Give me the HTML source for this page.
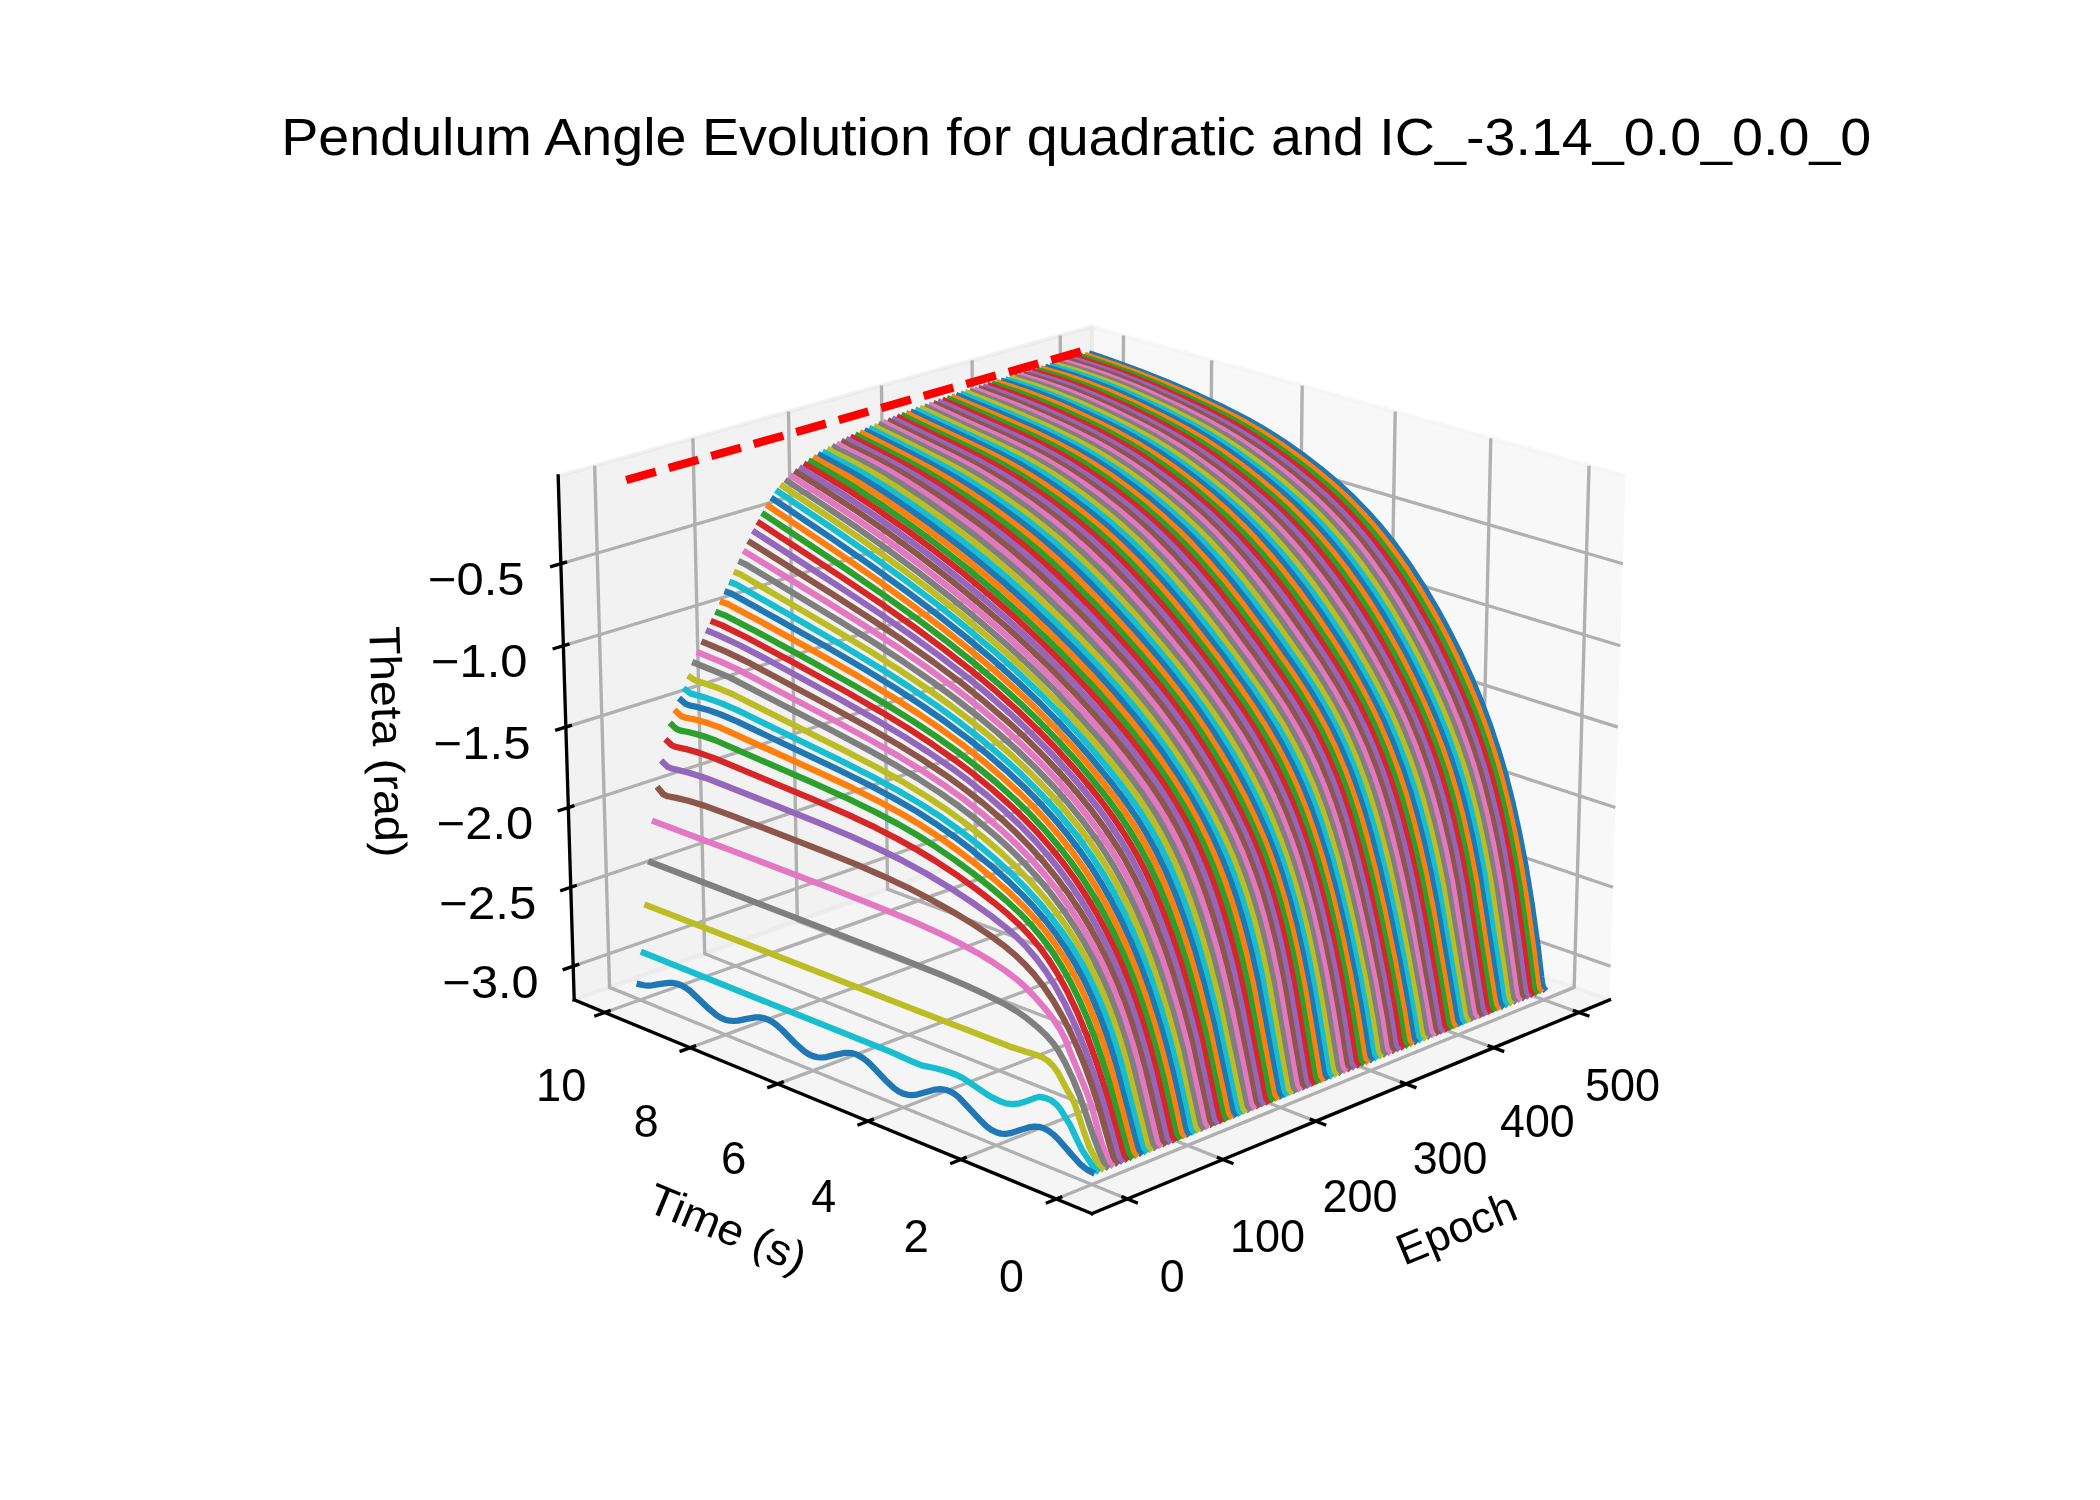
<!DOCTYPE html>
<html lang="en"><head><meta charset="utf-8"><title>Pendulum Angle Evolution</title>
<style>html,body{margin:0;padding:0;background:#fff}svg{display:block;will-change:transform}svg text{font-family:"Liberation Sans",sans-serif;fill:#000}</style></head>
<body>
<svg width="2100" height="1500" viewBox="0 0 504 360" role="img" aria-label="3D line chart of pendulum angle evolution">
 <defs>
  <style type="text/css">*{stroke-linejoin: round; stroke-linecap: butt}</style>
 </defs>
 <g id="figure_1">
  <g id="patch_1">
   <path d="M 0 360 L 504 360 L 504 0 L 0 0 z
" style="fill: #ffffff"/>
  </g>
  <g id="patch_2">
   <path d="M 119.7 320.4 L 396.9 320.4 L 396.9 43.2 L 119.7 43.2 z
" style="fill: #ffffff"/>
  </g>
  <g id="pane3d_1">
   <g id="patch_3">
    <path d="M 386.28 239.97 L 262.05 196.07 L 262.05 78.42 L 390.13 114.22" style="fill: #f2f2f2; fill-opacity: 0.5; stroke: #f2f2f2; stroke-opacity: 0.5; stroke-linejoin: miter"/>
   </g>
  </g>
  <g id="pane3d_2">
   <g id="patch_4">
    <path d="M 137.81 239.97 L 262.05 196.07 L 262.05 78.42 L 133.96 114.22" style="fill: #e6e6e6; fill-opacity: 0.5; stroke: #e6e6e6; stroke-opacity: 0.5; stroke-linejoin: miter"/>
   </g>
  </g>
  <g id="pane3d_3">
   <g id="patch_5">
    <path d="M 262.05 291.28 L 386.28 239.97 L 262.05 196.07 L 137.81 239.97" style="fill: #ececec; fill-opacity: 0.5; stroke: #ececec; stroke-opacity: 0.5; stroke-linejoin: miter"/>
   </g>
  </g>
  <g id="grid3d_1">
   <g id="Line3DCollection_1">
    <path d="M 270.57 287.76 L 146.29 236.97 L 142.72 111.77" style="fill: none; stroke: #b0b0b0; stroke-width: 0.8"/>
    <path d="M 293.50 278.29 L 169.13 228.90 L 166.30 105.18" style="fill: none; stroke: #b0b0b0; stroke-width: 0.8"/>
    <path d="M 315.78 269.09 L 191.36 221.05 L 189.24 98.77" style="fill: none; stroke: #b0b0b0; stroke-width: 0.8"/>
    <path d="M 337.43 260.14 L 213.01 213.40 L 211.56 92.53" style="fill: none; stroke: #b0b0b0; stroke-width: 0.8"/>
    <path d="M 358.48 251.45 L 234.11 205.94 L 233.30 86.45" style="fill: none; stroke: #b0b0b0; stroke-width: 0.8"/>
    <path d="M 378.96 242.99 L 254.68 198.68 L 254.47 80.54" style="fill: none; stroke: #b0b0b0; stroke-width: 0.8"/>
   </g>
  </g>
  <g id="grid3d_2">
   <g id="Line3DCollection_2">
    <path d="M 381.37 111.77 L 377.80 236.97 L 253.52 287.76" style="fill: none; stroke: #b0b0b0; stroke-width: 0.8"/>
    <path d="M 357.79 105.18 L 354.97 228.90 L 230.59 278.29" style="fill: none; stroke: #b0b0b0; stroke-width: 0.8"/>
    <path d="M 334.85 98.77 L 332.73 221.05 L 208.31 269.09" style="fill: none; stroke: #b0b0b0; stroke-width: 0.8"/>
    <path d="M 312.53 92.53 L 311.08 213.40 L 186.66 260.14" style="fill: none; stroke: #b0b0b0; stroke-width: 0.8"/>
    <path d="M 290.79 86.45 L 289.98 205.94 L 165.61 251.45" style="fill: none; stroke: #b0b0b0; stroke-width: 0.8"/>
    <path d="M 269.63 80.54 L 269.41 198.68 L 145.14 242.99" style="fill: none; stroke: #b0b0b0; stroke-width: 0.8"/>
   </g>
  </g>
  <g id="grid3d_3">
   <g id="Line3DCollection_3">
    <path d="M 137.56 231.90 L 262.05 188.51 L 386.53 231.90" style="fill: none; stroke: #b0b0b0; stroke-width: 0.8"/>
    <path d="M 136.98 212.94 L 262.05 170.74 L 387.11 212.94" style="fill: none; stroke: #b0b0b0; stroke-width: 0.8"/>
    <path d="M 136.40 193.80 L 262.05 152.82 L 387.70 193.80" style="fill: none; stroke: #b0b0b0; stroke-width: 0.8"/>
    <path d="M 135.80 174.49 L 262.05 134.74 L 388.29 174.49" style="fill: none; stroke: #b0b0b0; stroke-width: 0.8"/>
    <path d="M 135.21 154.98 L 262.05 116.50 L 388.89 154.98" style="fill: none; stroke: #b0b0b0; stroke-width: 0.8"/>
    <path d="M 134.60 135.30 L 262.05 98.10 L 389.49 135.30" style="fill: none; stroke: #b0b0b0; stroke-width: 0.8"/>
   </g>
  </g>
  <g id="axis3d_1">
   <g id="line2d_1">
    <path d="M 386.28 239.97 L 262.05 291.28" style="fill: none; stroke: #000000; stroke-width: 0.8; stroke-linecap: square"/>
   </g>
   <g id="xtick_1">
    <g id="line2d_2">
     <path d="M 269.50 287.32 L 272.73 288.64" style="fill: none; stroke: #000000; stroke-width: 0.8; stroke-linecap: square"/>
    </g>
    <g id="text_1">
     <text x="281.33" y="310.16" text-anchor="middle" font-size="10.90" textLength="5.97" lengthAdjust="spacingAndGlyphs">0</text>
    </g>
   </g>
   <g id="xtick_2">
    <g id="line2d_3">
     <path d="M 292.43 277.86 L 295.66 279.14" style="fill: none; stroke: #000000; stroke-width: 0.8; stroke-linecap: square"/>
    </g>
    <g id="text_2">
     <text x="304.19" y="300.43" text-anchor="middle" font-size="10.90" textLength="18.03" lengthAdjust="spacingAndGlyphs">100</text>
    </g>
   </g>
   <g id="xtick_3">
    <g id="line2d_4">
     <path d="M 314.70 268.67 L 317.94 269.92" style="fill: none; stroke: #000000; stroke-width: 0.8; stroke-linecap: square"/>
    </g>
    <g id="text_3">
     <text x="326.41" y="290.99" text-anchor="middle" font-size="10.90" textLength="18.03" lengthAdjust="spacingAndGlyphs">200</text>
    </g>
   </g>
   <g id="xtick_4">
    <g id="line2d_5">
     <path d="M 336.36 259.74 L 339.58 260.95" style="fill: none; stroke: #000000; stroke-width: 0.8; stroke-linecap: square"/>
    </g>
    <g id="text_4">
     <text x="347.99" y="281.81" text-anchor="middle" font-size="10.90" textLength="17.91" lengthAdjust="spacingAndGlyphs">300</text>
    </g>
   </g>
   <g id="xtick_5">
    <g id="line2d_6">
     <path d="M 357.41 251.06 L 360.63 252.24" style="fill: none; stroke: #000000; stroke-width: 0.8; stroke-linecap: square"/>
    </g>
    <g id="text_5">
     <text x="368.98" y="272.88" text-anchor="middle" font-size="10.90" textLength="17.91" lengthAdjust="spacingAndGlyphs">400</text>
    </g>
   </g>
   <g id="xtick_6">
    <g id="line2d_7">
     <path d="M 377.88 242.61 L 381.10 243.76" style="fill: none; stroke: #000000; stroke-width: 0.8; stroke-linecap: square"/>
    </g>
    <g id="text_6">
     <text x="389.39" y="264.21" text-anchor="middle" font-size="10.90" textLength="18.03" lengthAdjust="spacingAndGlyphs">500</text>
    </g>
   </g>
   <g id="text_7">
    <text x="350.88" y="298.11" transform="rotate(-22.44 350.88 298.11)" text-anchor="middle" font-size="10.50" textLength="30.07" lengthAdjust="spacingAndGlyphs">Epoch</text>
   </g>
  </g>
  <g id="axis3d_2">
   <g id="line2d_8">
    <path d="M 137.81 239.97 L 262.05 291.28" style="fill: none; stroke: #000000; stroke-width: 0.8; stroke-linecap: square"/>
   </g>
   <g id="xtick_7">
    <g id="line2d_9">
     <path d="M 254.59 287.32 L 251.36 288.64" style="fill: none; stroke: #000000; stroke-width: 0.8; stroke-linecap: square"/>
    </g>
    <g id="text_8">
     <text x="242.76" y="310.16" text-anchor="middle" font-size="10.90" textLength="5.97" lengthAdjust="spacingAndGlyphs">0</text>
    </g>
   </g>
   <g id="xtick_8">
    <g id="line2d_10">
     <path d="M 231.66 277.86 L 228.43 279.14" style="fill: none; stroke: #000000; stroke-width: 0.8; stroke-linecap: square"/>
    </g>
    <g id="text_9">
     <text x="219.90" y="300.43" text-anchor="middle" font-size="10.90" textLength="6.09" lengthAdjust="spacingAndGlyphs">2</text>
    </g>
   </g>
   <g id="xtick_9">
    <g id="line2d_11">
     <path d="M 209.39 268.67 L 206.16 269.92" style="fill: none; stroke: #000000; stroke-width: 0.8; stroke-linecap: square"/>
    </g>
    <g id="text_10">
     <text x="197.68" y="290.99" text-anchor="middle" font-size="10.90" textLength="5.97" lengthAdjust="spacingAndGlyphs">4</text>
    </g>
   </g>
   <g id="xtick_10">
    <g id="line2d_12">
     <path d="M 187.74 259.74 L 184.51 260.95" style="fill: none; stroke: #000000; stroke-width: 0.8; stroke-linecap: square"/>
    </g>
    <g id="text_11">
     <text x="176.10" y="281.81" text-anchor="middle" font-size="10.90" textLength="6.09" lengthAdjust="spacingAndGlyphs">6</text>
    </g>
   </g>
   <g id="xtick_11">
    <g id="line2d_13">
     <path d="M 166.68 251.06 L 163.46 252.24" style="fill: none; stroke: #000000; stroke-width: 0.8; stroke-linecap: square"/>
    </g>
    <g id="text_12">
     <text x="155.11" y="272.88" text-anchor="middle" font-size="10.90" textLength="5.97" lengthAdjust="spacingAndGlyphs">8</text>
    </g>
   </g>
   <g id="xtick_12">
    <g id="line2d_14">
     <path d="M 146.21 242.61 L 142.99 243.76" style="fill: none; stroke: #000000; stroke-width: 0.8; stroke-linecap: square"/>
    </g>
    <g id="text_13">
     <text x="134.70" y="264.21" text-anchor="middle" font-size="10.90" textLength="12.06" lengthAdjust="spacingAndGlyphs">10</text>
    </g>
   </g>
   <g id="text_14">
    <text x="173.22" y="298.11" transform="rotate(-337.56 173.22 298.11)" text-anchor="middle" font-size="10.50" textLength="40.09" lengthAdjust="spacingAndGlyphs">Time (s)</text>
   </g>
  </g>
  <g id="axis3d_3">
   <g id="line2d_15">
    <path d="M 137.81 239.97 L 133.96 114.22" style="fill: none; stroke: #000000; stroke-width: 0.8; stroke-linecap: square"/>
   </g>
   <g id="xtick_13">
    <g id="line2d_16">
     <path d="M 138.64 231.53 L 135.41 232.65" style="fill: none; stroke: #000000; stroke-width: 0.8; stroke-linecap: square"/>
    </g>
    <g id="text_15">
     <text x="117.73" y="239.50" text-anchor="middle" font-size="10.90" textLength="23.04" lengthAdjust="spacingAndGlyphs">−3.0</text>
    </g>
   </g>
   <g id="xtick_14">
    <g id="line2d_17">
     <path d="M 138.06 212.58 L 134.82 213.67" style="fill: none; stroke: #000000; stroke-width: 0.8; stroke-linecap: square"/>
    </g>
    <g id="text_16">
     <text x="117.06" y="220.54" text-anchor="middle" font-size="10.90" textLength="23.28" lengthAdjust="spacingAndGlyphs">−2.5</text>
    </g>
   </g>
   <g id="xtick_15">
    <g id="line2d_18">
     <path d="M 137.48 193.45 L 134.22 194.51" style="fill: none; stroke: #000000; stroke-width: 0.8; stroke-linecap: square"/>
    </g>
    <g id="text_17">
     <text x="116.38" y="201.40" text-anchor="middle" font-size="10.90" textLength="23.16" lengthAdjust="spacingAndGlyphs">−2.0</text>
    </g>
   </g>
   <g id="xtick_16">
    <g id="line2d_19">
     <path d="M 136.89 174.14 L 133.62 175.17" style="fill: none; stroke: #000000; stroke-width: 0.8; stroke-linecap: square"/>
    </g>
    <g id="text_18">
     <text x="115.69" y="182.08" text-anchor="middle" font-size="10.90" textLength="23.28" lengthAdjust="spacingAndGlyphs">−1.5</text>
    </g>
   </g>
   <g id="xtick_17">
    <g id="line2d_20">
     <path d="M 136.30 154.65 L 133.01 155.65" style="fill: none; stroke: #000000; stroke-width: 0.8; stroke-linecap: square"/>
    </g>
    <g id="text_19">
     <text x="115.00" y="162.58" text-anchor="middle" font-size="10.90" textLength="23.16" lengthAdjust="spacingAndGlyphs">−1.0</text>
    </g>
   </g>
   <g id="xtick_18">
    <g id="line2d_21">
     <path d="M 135.70 134.97 L 132.40 135.94" style="fill: none; stroke: #000000; stroke-width: 0.8; stroke-linecap: square"/>
    </g>
    <g id="text_20">
     <text x="114.30" y="142.89" text-anchor="middle" font-size="10.90" textLength="23.16" lengthAdjust="spacingAndGlyphs">−0.5</text>
    </g>
   </g>
   <g id="text_21">
    <text x="89.47" y="178.14" transform="rotate(-271.75 89.47 178.14)" text-anchor="middle" font-size="10.50" textLength="55.44" lengthAdjust="spacingAndGlyphs">Theta (rad)</text>
   </g>
  </g>
  <g id="axes_1">
   <g id="line2d_22">
    <path d="M 370.54 237.24 L 370.41 237.09 L 370.15 236.20 L 369.91 234.51 L 369.05 227.19 L 367.57 216.64 L 366.06 207.45 L 364.50 199.40 L 362.93 192.31 L 361.33 186.03 L 359.71 180.45 L 357.53 173.88 L 355.34 168.03 L 353.13 162.72 L 350.36 156.69 L 347.58 151.18 L 344.80 146.10 L 341.46 140.50 L 338.12 135.39 L 334.77 130.75 L 331.43 126.56 L 328.08 122.78 L 324.74 119.37 L 321.41 116.27 L 316.98 112.54 L 312.56 109.15 L 308.15 106.06 L 303.77 103.27 L 299.40 100.76 L 293.97 97.96 L 287.49 94.91 L 279.99 91.67 L 273.61 89.13 L 266.23 86.45 L 262.05 85.04 L 262.05 85.04" clip-path="url(#pd6e7ab36a4)" style="fill: none; stroke: #1f77b4; stroke-width: 1.5; stroke-linecap: square"/>
   </g>
   <g id="line2d_23">
    <path d="M 369.53 237.65 L 369.39 237.51 L 369.14 236.64 L 368.90 235.01 L 368.03 227.90 L 366.55 217.34 L 365.03 208.04 L 363.48 199.90 L 361.90 192.76 L 360.30 186.48 L 358.68 180.91 L 356.50 174.36 L 354.30 168.55 L 352.10 163.27 L 349.33 157.24 L 346.55 151.72 L 343.77 146.64 L 340.42 141.02 L 337.08 135.90 L 333.73 131.26 L 330.39 127.06 L 327.04 123.27 L 323.70 119.84 L 320.37 116.74 L 315.93 112.99 L 311.51 109.57 L 307.11 106.45 L 302.72 103.64 L 298.36 101.11 L 292.92 98.28 L 286.44 95.20 L 280.01 92.37 L 273.63 89.78 L 267.29 87.46 L 261.00 85.36 L 261.00 85.36" clip-path="url(#pd6e7ab36a4)" style="fill: none; stroke: #ff7f0e; stroke-width: 1.5; stroke-linecap: square"/>
   </g>
   <g id="line2d_24">
    <path d="M 368.52 238.07 L 368.38 237.92 L 368.12 237.09 L 367.88 235.51 L 367.01 228.60 L 365.02 214.76 L 363.49 205.76 L 361.93 197.92 L 360.34 191.05 L 358.73 185.01 L 357.11 179.66 L 354.92 173.35 L 352.72 167.71 L 349.95 161.33 L 347.18 155.53 L 344.40 150.18 L 341.06 144.30 L 337.71 138.92 L 334.92 134.82 L 331.57 130.32 L 328.23 126.25 L 324.89 122.58 L 321.55 119.25 L 318.21 116.23 L 313.78 112.55 L 309.37 109.19 L 304.97 106.11 L 300.59 103.34 L 296.22 100.86 L 290.79 98.06 L 284.32 95.00 L 277.90 92.18 L 271.52 89.64 L 265.19 87.38 L 259.96 85.68 L 259.96 85.68" clip-path="url(#pd6e7ab36a4)" style="fill: none; stroke: #2ca02c; stroke-width: 1.5; stroke-linecap: square"/>
   </g>
   <g id="line2d_25">
    <path d="M 367.50 238.48 L 367.37 238.34 L 367.11 237.53 L 366.87 236.01 L 365.49 225.68 L 364.00 215.41 L 362.47 206.33 L 360.90 198.43 L 359.32 191.53 L 357.71 185.49 L 356.08 180.14 L 353.89 173.85 L 351.69 168.23 L 348.92 161.88 L 346.14 156.08 L 343.36 150.73 L 340.02 144.84 L 336.67 139.45 L 333.88 135.34 L 330.53 130.84 L 327.18 126.76 L 323.84 123.08 L 320.50 119.73 L 317.17 116.69 L 312.74 113.00 L 308.32 109.61 L 303.92 106.51 L 299.54 103.71 L 295.18 101.20 L 289.75 98.38 L 283.28 95.29 L 276.85 92.46 L 271.53 90.31 L 266.25 88.39 L 259.95 86.32 L 258.91 86.00 L 258.91 86.00" clip-path="url(#pd6e7ab36a4)" style="fill: none; stroke: #d62728; stroke-width: 1.5; stroke-linecap: square"/>
   </g>
   <g id="line2d_26">
    <path d="M 366.49 238.89 L 366.35 238.76 L 366.09 237.97 L 365.85 236.49 L 364.47 226.37 L 362.46 212.87 L 360.92 204.13 L 359.35 196.54 L 357.75 189.92 L 356.13 184.12 L 354.50 178.99 L 352.30 172.90 L 350.10 167.44 L 347.33 161.22 L 344.55 155.52 L 341.76 150.26 L 338.42 144.45 L 335.07 139.14 L 331.72 134.32 L 328.37 129.96 L 325.03 126.01 L 321.68 122.43 L 318.35 119.17 L 315.01 116.20 L 310.59 112.57 L 306.17 109.23 L 301.78 106.18 L 297.40 103.43 L 293.04 100.96 L 287.62 98.16 L 281.15 95.10 L 274.74 92.29 L 269.43 90.19 L 264.15 88.31 L 257.86 86.32 L 257.86 86.32" clip-path="url(#pd6e7ab36a4)" style="fill: none; stroke: #9467bd; stroke-width: 1.5; stroke-linecap: square"/>
   </g>
   <g id="line2d_27">
    <path d="M 365.47 239.31 L 365.33 239.17 L 365.07 238.41 L 364.83 236.98 L 362.94 223.51 L 361.43 213.49 L 359.89 204.70 L 358.32 197.07 L 356.72 190.43 L 355.10 184.63 L 353.47 179.49 L 351.27 173.42 L 349.06 167.97 L 346.29 161.76 L 343.51 156.07 L 340.72 150.81 L 337.37 145.00 L 334.02 139.69 L 330.67 134.87 L 327.33 130.49 L 323.98 126.53 L 320.64 122.93 L 317.30 119.66 L 313.97 116.67 L 309.54 113.02 L 305.13 109.66 L 300.73 106.58 L 296.35 103.80 L 291.99 101.31 L 286.57 98.49 L 280.10 95.40 L 273.69 92.58 L 268.38 90.47 L 263.10 88.61 L 256.81 86.64 L 256.81 86.64" clip-path="url(#pd6e7ab36a4)" style="fill: none; stroke: #8c564b; stroke-width: 1.5; stroke-linecap: square"/>
   </g>
   <g id="line2d_28">
    <path d="M 364.45 239.72 L 364.31 239.59 L 364.05 238.84 L 363.81 237.45 L 361.41 220.71 L 359.89 211.03 L 358.34 202.60 L 356.75 195.29 L 355.15 188.93 L 353.52 183.36 L 351.88 178.42 L 349.68 172.53 L 347.47 167.22 L 344.69 161.13 L 341.91 155.54 L 338.56 149.37 L 335.21 143.74 L 331.86 138.59 L 328.51 133.91 L 325.16 129.66 L 321.82 125.81 L 318.47 122.32 L 315.14 119.13 L 310.70 115.27 L 306.28 111.75 L 301.88 108.50 L 297.49 105.54 L 293.12 102.89 L 288.77 100.49 L 283.36 97.76 L 276.91 94.73 L 271.57 92.43 L 266.27 90.37 L 260.99 88.56 L 255.76 86.96 L 255.76 86.96" clip-path="url(#pd6e7ab36a4)" style="fill: none; stroke: #e377c2; stroke-width: 1.5; stroke-linecap: square"/>
   </g>
   <g id="line2d_29">
    <path d="M 363.43 240.14 L 363.29 240.01 L 363.03 239.28 L 362.78 237.92 L 359.37 214.74 L 357.83 205.86 L 356.25 198.17 L 354.65 191.49 L 353.03 185.67 L 351.39 180.53 L 349.19 174.47 L 346.98 169.04 L 344.20 162.85 L 341.42 157.17 L 338.63 151.93 L 335.28 146.12 L 331.93 140.82 L 328.58 135.98 L 325.23 131.58 L 321.88 127.59 L 318.54 123.97 L 315.20 120.66 L 311.87 117.63 L 307.44 113.93 L 303.02 110.52 L 298.63 107.39 L 294.25 104.56 L 289.89 102.02 L 284.47 99.16 L 278.00 96.03 L 271.58 93.17 L 266.27 91.06 L 260.99 89.21 L 254.70 87.29 L 254.70 87.29" clip-path="url(#pd6e7ab36a4)" style="fill: none; stroke: #7f7f7f; stroke-width: 1.5; stroke-linecap: square"/>
   </g>
   <g id="line2d_30">
    <path d="M 362.41 240.55 L 362.27 240.43 L 362.01 239.71 L 361.76 238.39 L 357.83 212.26 L 356.27 203.76 L 354.68 196.40 L 353.08 190.01 L 351.45 184.42 L 349.80 179.47 L 347.60 173.59 L 345.38 168.29 L 342.60 162.22 L 339.82 156.65 L 336.47 150.50 L 333.12 144.87 L 329.77 139.73 L 326.41 135.03 L 323.06 130.77 L 319.72 126.89 L 316.37 123.35 L 313.04 120.12 L 308.60 116.21 L 304.18 112.64 L 299.77 109.34 L 295.38 106.34 L 291.01 103.63 L 286.66 101.20 L 281.25 98.42 L 274.80 95.37 L 269.46 93.04 L 264.16 90.98 L 258.89 89.18 L 253.65 87.61 L 253.65 87.61" clip-path="url(#pd6e7ab36a4)" style="fill: none; stroke: #bcbd22; stroke-width: 1.5; stroke-linecap: square"/>
   </g>
   <g id="line2d_31">
    <path d="M 361.39 240.97 L 361.25 240.84 L 360.99 240.14 L 360.74 238.85 L 356.28 209.90 L 354.71 201.78 L 353.11 194.74 L 351.50 188.62 L 349.86 183.25 L 347.66 176.97 L 345.45 171.41 L 342.67 165.12 L 339.89 159.37 L 337.10 154.07 L 333.75 148.20 L 330.39 142.82 L 327.60 138.69 L 324.24 134.14 L 320.89 129.99 L 317.55 126.21 L 314.21 122.76 L 310.87 119.60 L 306.44 115.76 L 302.02 112.24 L 297.62 108.99 L 293.24 106.03 L 288.87 103.38 L 284.52 100.98 L 279.12 98.24 L 272.68 95.21 L 267.34 92.92 L 262.05 90.91 L 256.78 89.16 L 252.59 87.93 L 252.59 87.93" clip-path="url(#pd6e7ab36a4)" style="fill: none; stroke: #17becf; stroke-width: 1.5; stroke-linecap: square"/>
   </g>
   <g id="line2d_32">
    <path d="M 360.36 241.38 L 360.22 241.26 L 359.96 240.57 L 359.71 239.30 L 354.72 207.67 L 353.14 199.91 L 351.54 193.18 L 349.91 187.31 L 348.27 182.14 L 346.07 176.06 L 343.85 170.63 L 341.07 164.47 L 338.28 158.83 L 335.49 153.62 L 332.14 147.85 L 328.78 142.56 L 325.43 137.72 L 322.07 133.29 L 318.73 129.25 L 315.38 125.56 L 312.04 122.19 L 308.71 119.10 L 304.28 115.32 L 299.86 111.85 L 295.47 108.64 L 291.09 105.74 L 286.73 103.13 L 281.30 100.21 L 274.84 97.03 L 268.42 94.13 L 263.10 92.00 L 257.83 90.15 L 252.58 88.55 L 251.54 88.25 L 251.54 88.25" clip-path="url(#pd6e7ab36a4)" style="fill: none; stroke: #1f77b4; stroke-width: 1.5; stroke-linecap: square"/>
   </g>
   <g id="line2d_33">
    <path d="M 359.34 241.80 L 359.06 241.41 L 358.81 240.45 L 357.77 234.03 L 354.20 211.14 L 352.63 202.99 L 351.03 195.92 L 349.41 189.76 L 347.78 184.35 L 346.13 179.55 L 343.92 173.82 L 341.69 168.63 L 338.91 162.70 L 336.12 157.26 L 332.76 151.26 L 329.41 145.75 L 326.61 141.50 L 323.26 136.79 L 319.90 132.48 L 316.55 128.55 L 313.21 124.95 L 309.87 121.65 L 306.54 118.62 L 302.12 114.90 L 297.71 111.47 L 293.31 108.31 L 288.94 105.46 L 284.58 102.90 L 279.16 100.02 L 272.70 96.87 L 266.29 94.01 L 260.99 91.93 L 255.72 90.13 L 250.48 88.58 L 250.48 88.58" clip-path="url(#pd6e7ab36a4)" style="fill: none; stroke: #ff7f0e; stroke-width: 1.5; stroke-linecap: square"/>
   </g>
   <g id="line2d_34">
    <path d="M 358.31 242.22 L 358.04 241.84 L 357.78 240.88 L 356.74 234.55 L 353.16 211.76 L 351.59 203.61 L 349.99 196.52 L 348.37 190.34 L 346.73 184.92 L 345.08 180.10 L 342.87 174.35 L 340.65 169.17 L 337.86 163.25 L 335.07 157.82 L 331.71 151.84 L 328.35 146.35 L 325.56 142.11 L 322.20 137.39 L 318.85 133.07 L 315.50 129.12 L 312.15 125.49 L 308.82 122.17 L 305.49 119.12 L 301.06 115.37 L 296.65 111.92 L 292.25 108.74 L 287.88 105.86 L 283.52 103.28 L 278.10 100.39 L 271.64 97.22 L 266.30 94.81 L 260.99 92.66 L 255.71 90.80 L 250.46 89.20 L 249.42 88.91 L 249.42 88.91" clip-path="url(#pd6e7ab36a4)" style="fill: none; stroke: #2ca02c; stroke-width: 1.5; stroke-linecap: square"/>
   </g>
   <g id="line2d_35">
    <path d="M 357.28 242.64 L 357.01 242.26 L 356.75 241.31 L 355.70 235.05 L 352.12 212.39 L 350.55 204.24 L 348.95 197.14 L 347.32 190.94 L 345.69 185.49 L 344.04 180.65 L 341.82 174.89 L 339.60 169.70 L 336.81 163.79 L 334.01 158.39 L 330.66 152.43 L 327.30 146.96 L 324.50 142.72 L 321.14 138.00 L 317.79 133.67 L 314.44 129.69 L 311.10 126.05 L 307.76 122.70 L 304.43 119.62 L 300.00 115.85 L 295.59 112.37 L 291.19 109.17 L 286.82 106.27 L 282.46 103.67 L 277.04 100.76 L 270.58 97.58 L 265.24 95.16 L 259.92 93.00 L 254.65 91.14 L 249.40 89.53 L 248.36 89.23 L 248.36 89.23" clip-path="url(#pd6e7ab36a4)" style="fill: none; stroke: #d62728; stroke-width: 1.5; stroke-linecap: square"/>
   </g>
   <g id="line2d_36">
    <path d="M 356.25 243.06 L 355.98 242.68 L 355.72 241.74 L 354.67 235.53 L 351.08 213.02 L 349.50 204.88 L 347.90 197.76 L 346.28 191.54 L 344.64 186.07 L 342.99 181.21 L 340.77 175.43 L 338.55 170.24 L 335.76 164.34 L 332.96 158.95 L 329.60 153.02 L 326.24 147.57 L 323.44 143.34 L 320.08 138.62 L 316.73 134.28 L 313.38 130.28 L 310.04 126.61 L 306.70 123.23 L 303.37 120.13 L 298.94 116.33 L 294.53 112.83 L 290.13 109.61 L 285.76 106.69 L 281.40 104.07 L 275.98 101.14 L 269.52 97.95 L 263.11 95.06 L 257.80 92.95 L 252.53 91.13 L 247.30 89.56 L 247.30 89.56" clip-path="url(#pd6e7ab36a4)" style="fill: none; stroke: #9467bd; stroke-width: 1.5; stroke-linecap: square"/>
   </g>
   <g id="line2d_37">
    <path d="M 355.22 243.48 L 354.95 243.10 L 354.69 242.17 L 353.63 236.00 L 349.51 210.82 L 347.92 203.04 L 346.31 196.22 L 344.68 190.24 L 343.04 184.97 L 340.83 178.78 L 338.61 173.31 L 336.38 168.34 L 333.59 162.68 L 330.79 157.49 L 327.42 151.76 L 324.06 146.47 L 321.26 142.36 L 317.91 137.76 L 314.55 133.51 L 311.20 129.60 L 307.86 126.01 L 304.52 122.70 L 301.20 119.66 L 296.77 115.92 L 292.36 112.46 L 287.97 109.29 L 283.60 106.42 L 279.25 103.85 L 273.84 100.96 L 267.39 97.81 L 262.05 95.42 L 256.74 93.30 L 251.47 91.47 L 246.23 89.89 L 246.23 89.89" clip-path="url(#pd6e7ab36a4)" style="fill: none; stroke: #8c564b; stroke-width: 1.5; stroke-linecap: square"/>
   </g>
   <g id="line2d_38">
    <path d="M 354.19 243.90 L 353.91 243.52 L 353.65 242.59 L 352.60 236.46 L 348.47 211.46 L 346.88 203.69 L 345.26 196.86 L 343.63 190.85 L 341.99 185.55 L 339.78 179.34 L 337.56 173.84 L 335.33 168.88 L 332.53 163.23 L 329.73 158.07 L 326.37 152.37 L 323.00 147.11 L 320.20 142.99 L 316.84 138.39 L 313.49 134.12 L 310.14 130.19 L 306.80 126.57 L 303.46 123.24 L 300.13 120.17 L 295.71 116.40 L 291.30 112.92 L 286.91 109.73 L 282.54 106.84 L 278.19 104.25 L 272.77 101.35 L 266.32 98.19 L 260.98 95.79 L 255.67 93.66 L 250.40 91.81 L 245.17 90.22 L 245.17 90.22" clip-path="url(#pd6e7ab36a4)" style="fill: none; stroke: #e377c2; stroke-width: 1.5; stroke-linecap: square"/>
   </g>
   <g id="line2d_39">
    <path d="M 353.15 244.32 L 352.88 243.94 L 352.62 243.02 L 351.56 236.90 L 347.42 212.11 L 345.83 204.34 L 344.21 197.50 L 342.58 191.47 L 340.94 186.13 L 338.73 179.89 L 336.50 174.38 L 334.27 169.41 L 331.47 163.79 L 328.67 158.65 L 325.31 152.99 L 321.94 147.74 L 318.02 142.06 L 314.66 137.56 L 311.31 133.39 L 307.96 129.54 L 304.62 125.99 L 301.29 122.72 L 296.85 118.74 L 292.44 115.11 L 288.04 111.75 L 283.66 108.68 L 279.29 105.93 L 274.95 103.46 L 269.55 100.65 L 263.11 97.58 L 257.79 95.27 L 252.49 93.25 L 247.24 91.49 L 244.10 90.55 L 244.10 90.55" clip-path="url(#pd6e7ab36a4)" style="fill: none; stroke: #7f7f7f; stroke-width: 1.5; stroke-linecap: square"/>
   </g>
   <g id="line2d_40">
    <path d="M 352.12 244.74 L 351.84 244.36 L 351.58 243.44 L 350.53 237.33 L 346.37 212.75 L 344.78 205.00 L 343.16 198.14 L 341.53 192.09 L 339.88 186.73 L 338.23 181.94 L 336.01 176.24 L 333.77 171.15 L 330.98 165.42 L 328.17 160.22 L 324.81 154.51 L 321.44 149.23 L 318.08 144.29 L 314.72 139.67 L 311.36 135.37 L 308.01 131.39 L 304.67 127.71 L 301.33 124.32 L 298.00 121.20 L 293.58 117.38 L 289.17 113.87 L 284.78 110.63 L 280.40 107.70 L 276.05 105.07 L 270.64 102.14 L 264.19 98.96 L 258.85 96.55 L 253.54 94.39 L 248.27 92.52 L 243.03 90.88 L 243.03 90.88" clip-path="url(#pd6e7ab36a4)" style="fill: none; stroke: #bcbd22; stroke-width: 1.5; stroke-linecap: square"/>
   </g>
   <g id="line2d_41">
    <path d="M 351.08 245.16 L 350.81 244.78 L 350.55 243.85 L 349.49 237.75 L 345.32 213.39 L 343.72 205.66 L 342.11 198.79 L 340.48 192.71 L 338.83 187.32 L 337.17 182.51 L 334.95 176.78 L 332.72 171.68 L 330.48 167.06 L 327.67 161.79 L 324.87 156.96 L 321.50 151.59 L 318.13 146.55 L 314.77 141.82 L 311.41 137.40 L 308.06 133.30 L 304.72 129.49 L 301.38 125.98 L 298.04 122.75 L 293.61 118.81 L 289.20 115.20 L 284.80 111.87 L 280.43 108.84 L 276.07 106.12 L 271.73 103.68 L 266.34 100.91 L 259.91 97.88 L 254.59 95.60 L 249.30 93.60 L 244.05 91.86 L 241.96 91.21 L 241.96 91.21" clip-path="url(#pd6e7ab36a4)" style="fill: none; stroke: #17becf; stroke-width: 1.5; stroke-linecap: square"/>
   </g>
   <g id="line2d_42">
    <path d="M 350.04 245.58 L 349.77 245.20 L 349.51 244.27 L 348.45 238.16 L 344.80 216.79 L 343.21 208.79 L 341.60 201.64 L 339.97 195.29 L 338.32 189.65 L 336.67 184.63 L 334.45 178.70 L 332.22 173.44 L 329.98 168.72 L 327.17 163.37 L 324.37 158.50 L 321.00 153.09 L 317.07 147.21 L 312.59 140.97 L 309.23 136.64 L 305.88 132.61 L 302.53 128.88 L 299.20 125.43 L 295.87 122.26 L 291.44 118.39 L 287.03 114.83 L 282.64 111.55 L 278.27 108.58 L 273.91 105.91 L 269.58 103.52 L 264.19 100.79 L 257.77 97.80 L 252.46 95.57 L 247.18 93.60 L 240.89 91.54 L 240.89 91.54" clip-path="url(#pd6e7ab36a4)" style="fill: none; stroke: #1f77b4; stroke-width: 1.5; stroke-linecap: square"/>
   </g>
   <g id="line2d_43">
    <path d="M 349.00 246.01 L 348.73 245.63 L 348.47 244.69 L 347.41 238.55 L 343.75 217.41 L 342.15 209.45 L 340.54 202.30 L 338.91 195.93 L 337.27 190.26 L 335.61 185.21 L 333.39 179.25 L 331.16 173.98 L 328.92 169.26 L 326.11 163.95 L 323.30 159.10 L 319.93 153.73 L 316.00 147.87 L 311.52 141.63 L 308.16 137.29 L 304.81 133.23 L 301.46 129.48 L 298.13 126.00 L 294.80 122.80 L 290.37 118.90 L 285.96 115.33 L 281.57 112.03 L 277.19 109.04 L 272.84 106.36 L 268.51 103.95 L 263.12 101.22 L 256.70 98.22 L 251.39 95.98 L 246.11 93.99 L 239.82 91.89 L 239.82 91.89" clip-path="url(#pd6e7ab36a4)" style="fill: none; stroke: #ff7f0e; stroke-width: 1.5; stroke-linecap: square"/>
   </g>
   <g id="line2d_44">
    <path d="M 347.96 246.43 L 347.69 246.05 L 347.43 245.10 L 345.84 235.90 L 343.22 220.83 L 341.10 210.10 L 339.48 202.96 L 337.85 196.57 L 336.21 190.87 L 334.55 185.79 L 332.33 179.80 L 330.10 174.52 L 327.85 169.81 L 325.05 164.52 L 322.24 159.71 L 318.86 154.37 L 314.93 148.54 L 310.45 142.30 L 305.97 136.55 L 302.62 132.57 L 299.28 128.88 L 295.94 125.48 L 292.62 122.34 L 288.19 118.50 L 283.79 114.97 L 279.40 111.73 L 275.03 108.80 L 270.68 106.18 L 266.35 103.82 L 260.97 101.13 L 254.56 98.18 L 249.25 95.97 L 243.98 94.01 L 238.74 92.24 L 238.74 92.24" clip-path="url(#pd6e7ab36a4)" style="fill: none; stroke: #2ca02c; stroke-width: 1.5; stroke-linecap: square"/>
   </g>
   <g id="line2d_45">
    <path d="M 346.92 246.85 L 346.64 246.47 L 346.38 245.51 L 344.80 236.30 L 342.17 221.41 L 340.04 210.74 L 338.42 203.61 L 336.79 197.20 L 335.15 191.48 L 333.49 186.37 L 331.27 180.35 L 329.03 175.06 L 326.79 170.36 L 324.54 166.10 L 321.73 161.24 L 318.36 155.87 L 313.86 149.21 L 309.38 142.97 L 304.90 137.20 L 301.55 133.20 L 298.21 129.48 L 294.87 126.05 L 291.54 122.88 L 287.12 119.02 L 282.71 115.48 L 278.33 112.22 L 273.96 109.27 L 269.61 106.63 L 265.28 104.26 L 259.90 101.56 L 253.48 98.61 L 248.18 96.39 L 242.91 94.40 L 237.67 92.59 L 237.67 92.59" clip-path="url(#pd6e7ab36a4)" style="fill: none; stroke: #d62728; stroke-width: 1.5; stroke-linecap: square"/>
   </g>
   <g id="line2d_46">
    <path d="M 345.87 247.28 L 345.60 246.89 L 345.34 245.93 L 343.23 233.67 L 340.59 219.21 L 338.45 208.92 L 336.82 202.04 L 335.18 195.85 L 333.53 190.31 L 331.87 185.36 L 329.65 179.52 L 327.41 174.38 L 325.16 169.81 L 322.35 164.68 L 319.54 160.02 L 315.60 153.98 L 311.67 148.28 L 307.18 142.15 L 302.71 136.48 L 299.36 132.55 L 296.02 128.90 L 292.69 125.53 L 289.36 122.43 L 284.94 118.63 L 280.54 115.14 L 276.16 111.94 L 271.79 109.05 L 267.45 106.47 L 263.12 104.14 L 257.75 101.49 L 251.34 98.58 L 244.99 95.98 L 238.68 93.68 L 236.59 92.94 L 236.59 92.94" clip-path="url(#pd6e7ab36a4)" style="fill: none; stroke: #9467bd; stroke-width: 1.5; stroke-linecap: square"/>
   </g>
   <g id="line2d_47">
    <path d="M 344.83 247.70 L 344.55 247.31 L 344.29 246.34 L 339.00 217.12 L 336.85 207.18 L 335.22 200.53 L 333.57 194.54 L 331.92 189.19 L 330.25 184.39 L 328.02 178.72 L 325.78 173.74 L 323.53 169.30 L 320.72 164.31 L 317.34 158.87 L 312.84 152.16 L 308.35 145.84 L 303.87 139.91 L 299.40 134.46 L 296.06 130.69 L 292.72 127.21 L 289.39 123.99 L 284.97 120.08 L 280.56 116.50 L 276.17 113.21 L 271.80 110.22 L 267.45 107.55 L 263.12 105.15 L 257.74 102.44 L 251.33 99.49 L 244.97 96.82 L 238.65 94.43 L 235.52 93.30 L 235.52 93.30" clip-path="url(#pd6e7ab36a4)" style="fill: none; stroke: #8c564b; stroke-width: 1.5; stroke-linecap: square"/>
   </g>
   <g id="line2d_48">
    <path d="M 343.78 248.13 L 343.51 247.73 L 343.25 246.75 L 338.48 220.35 L 336.33 210.17 L 334.15 201.15 L 332.51 195.15 L 330.85 189.77 L 329.19 184.95 L 326.96 179.26 L 324.71 174.28 L 322.47 169.86 L 319.65 164.89 L 316.27 159.50 L 311.77 152.83 L 307.28 146.51 L 302.80 140.58 L 298.33 135.10 L 294.98 131.31 L 291.64 127.79 L 288.32 124.55 L 283.89 120.62 L 279.48 117.02 L 275.09 113.71 L 270.72 110.71 L 266.38 108.01 L 262.05 105.60 L 256.66 102.89 L 250.25 99.93 L 243.89 97.25 L 237.57 94.81 L 234.44 93.65 L 234.44 93.65" clip-path="url(#pd6e7ab36a4)" style="fill: none; stroke: #e377c2; stroke-width: 1.5; stroke-linecap: square"/>
   </g>
   <g id="line2d_49">
    <path d="M 342.73 248.56 L 342.59 248.43 L 342.33 247.74 L 342.07 246.45 L 341.13 240.80 L 338.48 226.33 L 336.34 215.70 L 334.18 206.12 L 331.99 197.68 L 330.34 192.08 L 328.68 187.07 L 326.45 181.16 L 324.21 176.02 L 321.96 171.48 L 319.71 167.39 L 316.89 162.74 L 313.51 157.58 L 308.45 150.29 L 303.96 144.16 L 299.48 138.43 L 295.02 133.16 L 291.68 129.53 L 288.35 126.18 L 285.02 123.09 L 280.61 119.31 L 276.21 115.84 L 271.83 112.67 L 267.47 109.80 L 263.13 107.24 L 258.81 104.94 L 253.44 102.32 L 247.04 99.45 L 240.70 96.83 L 233.36 94.00 L 233.36 94.00" clip-path="url(#pd6e7ab36a4)" style="fill: none; stroke: #7f7f7f; stroke-width: 1.5; stroke-linecap: square"/>
   </g>
   <g id="line2d_50">
    <path d="M 341.68 248.98 L 341.54 248.86 L 341.28 248.16 L 341.02 246.85 L 340.08 241.17 L 337.43 226.81 L 335.28 216.26 L 333.12 206.72 L 330.93 198.27 L 329.27 192.66 L 327.61 187.63 L 325.38 181.72 L 323.14 176.57 L 320.89 172.04 L 318.63 167.97 L 315.81 163.35 L 311.87 157.39 L 306.25 149.39 L 301.76 143.35 L 297.29 137.71 L 293.94 133.79 L 290.60 130.13 L 287.27 126.76 L 283.94 123.64 L 279.53 119.85 L 275.13 116.36 L 270.75 113.17 L 266.39 110.29 L 262.05 107.71 L 257.73 105.39 L 252.36 102.77 L 245.96 99.90 L 238.56 96.83 L 232.27 94.36 L 232.27 94.36" clip-path="url(#pd6e7ab36a4)" style="fill: none; stroke: #bcbd22; stroke-width: 1.5; stroke-linecap: square"/>
   </g>
   <g id="line2d_51">
    <path d="M 340.63 249.41 L 340.49 249.29 L 340.22 248.58 L 339.97 247.26 L 339.03 241.54 L 336.90 230.01 L 334.76 219.33 L 332.60 209.57 L 330.41 200.85 L 328.76 195.03 L 327.10 189.81 L 325.43 185.12 L 323.19 179.60 L 320.94 174.80 L 318.69 170.53 L 315.87 165.74 L 312.48 160.51 L 307.42 153.19 L 301.80 145.48 L 297.32 139.73 L 292.86 134.41 L 289.52 130.74 L 286.18 127.34 L 282.86 124.21 L 278.44 120.39 L 274.04 116.89 L 269.66 113.68 L 265.30 110.78 L 260.96 108.18 L 256.64 105.85 L 251.28 103.22 L 244.88 100.34 L 236.43 96.82 L 231.19 94.71 L 231.19 94.71" clip-path="url(#pd6e7ab36a4)" style="fill: none; stroke: #17becf; stroke-width: 1.5; stroke-linecap: square"/>
   </g>
   <g id="line2d_52">
    <path d="M 339.58 249.84 L 339.44 249.71 L 339.17 249.00 L 338.92 247.68 L 337.97 241.91 L 335.85 230.43 L 333.16 217.31 L 330.99 207.83 L 328.79 199.40 L 327.14 193.78 L 325.47 188.74 L 323.80 184.22 L 321.55 178.90 L 319.30 174.25 L 317.05 170.11 L 314.23 165.44 L 310.84 160.30 L 305.21 152.26 L 299.60 144.66 L 295.12 139.00 L 290.66 133.78 L 287.32 130.18 L 283.99 126.85 L 280.67 123.78 L 276.26 120.02 L 271.86 116.58 L 267.49 113.43 L 263.13 110.59 L 258.80 108.05 L 254.48 105.76 L 249.12 103.17 L 241.67 99.87 L 232.20 95.95 L 230.10 95.06 L 230.10 95.06" clip-path="url(#pd6e7ab36a4)" style="fill: none; stroke: #1f77b4; stroke-width: 1.5; stroke-linecap: square"/>
   </g>
   <g id="line2d_53">
    <path d="M 338.52 250.27 L 338.38 250.14 L 338.12 249.42 L 337.86 248.09 L 336.92 242.28 L 334.79 230.84 L 332.10 217.79 L 329.92 208.36 L 327.73 199.95 L 326.07 194.33 L 324.40 189.30 L 322.72 184.78 L 320.48 179.46 L 318.23 174.82 L 315.97 170.69 L 313.15 166.04 L 309.76 160.93 L 304.13 152.91 L 298.52 145.32 L 294.04 139.65 L 289.58 134.42 L 286.24 130.80 L 282.91 127.45 L 279.59 124.36 L 275.17 120.59 L 270.78 117.13 L 266.40 113.97 L 262.05 111.10 L 257.71 108.54 L 253.40 106.25 L 248.04 103.65 L 240.59 100.34 L 229.02 95.45 L 229.02 95.45" clip-path="url(#pd6e7ab36a4)" style="fill: none; stroke: #ff7f0e; stroke-width: 1.5; stroke-linecap: square"/>
   </g>
   <g id="line2d_54">
    <path d="M 337.47 250.70 L 337.33 250.57 L 337.06 249.85 L 336.80 248.51 L 335.86 242.66 L 333.73 231.24 L 331.03 218.26 L 328.85 208.86 L 326.66 200.48 L 325.00 194.87 L 323.33 189.84 L 321.65 185.33 L 319.40 180.02 L 317.15 175.39 L 314.89 171.27 L 312.07 166.63 L 308.68 161.54 L 303.05 153.55 L 297.44 145.97 L 292.96 140.29 L 288.49 135.04 L 285.15 131.41 L 281.82 128.04 L 278.50 124.93 L 274.09 121.13 L 269.69 117.66 L 265.31 114.48 L 260.96 111.60 L 256.62 109.02 L 252.31 106.70 L 246.95 104.10 L 239.50 100.77 L 227.93 95.80 L 227.93 95.80" clip-path="url(#pd6e7ab36a4)" style="fill: none; stroke: #2ca02c; stroke-width: 1.5; stroke-linecap: square"/>
   </g>
   <g id="line2d_55">
    <path d="M 336.41 251.13 L 336.27 251.00 L 336.00 250.27 L 335.75 248.93 L 334.80 243.04 L 333.20 234.36 L 330.51 221.18 L 328.33 211.59 L 326.14 202.98 L 323.92 195.40 L 322.25 190.39 L 320.57 185.89 L 318.33 180.59 L 316.07 175.97 L 313.82 171.86 L 310.99 167.23 L 307.60 162.15 L 301.97 154.18 L 296.35 146.62 L 291.87 140.95 L 287.41 135.69 L 284.07 132.04 L 280.74 128.65 L 277.41 125.52 L 273.00 121.71 L 268.60 118.22 L 264.23 115.02 L 259.87 112.12 L 255.53 109.52 L 251.22 107.19 L 245.86 104.57 L 238.41 101.24 L 226.84 96.18 L 226.84 96.18" clip-path="url(#pd6e7ab36a4)" style="fill: none; stroke: #d62728; stroke-width: 1.5; stroke-linecap: square"/>
   </g>
   <g id="line2d_56">
    <path d="M 335.35 251.56 L 335.21 251.43 L 334.94 250.70 L 334.69 249.35 L 333.74 243.43 L 332.14 234.73 L 329.44 221.59 L 327.26 212.05 L 325.06 203.47 L 322.85 195.93 L 321.18 190.93 L 319.50 186.44 L 317.25 181.16 L 314.99 176.55 L 312.74 172.45 L 309.91 167.83 L 306.52 162.76 L 300.88 154.81 L 295.26 147.27 L 290.79 141.60 L 286.32 136.33 L 281.87 131.51 L 278.54 128.19 L 275.22 125.12 L 270.81 121.38 L 266.42 117.95 L 262.05 114.81 L 257.69 111.97 L 253.36 109.42 L 249.06 107.13 L 243.70 104.55 L 235.21 100.77 L 225.75 96.57 L 225.75 96.57" clip-path="url(#pd6e7ab36a4)" style="fill: none; stroke: #9467bd; stroke-width: 1.5; stroke-linecap: square"/>
   </g>
   <g id="line2d_57">
    <path d="M 334.29 251.99 L 334.15 251.86 L 333.88 251.13 L 333.63 249.77 L 332.68 243.82 L 331.08 235.09 L 328.92 224.50 L 326.74 214.77 L 324.54 205.99 L 322.33 198.23 L 320.66 193.07 L 318.98 188.44 L 316.73 182.98 L 314.48 178.24 L 312.22 174.03 L 309.39 169.33 L 306.00 164.20 L 300.92 157.00 L 295.30 149.40 L 290.82 143.65 L 286.35 138.27 L 281.89 133.32 L 278.56 129.91 L 275.23 126.74 L 270.82 122.89 L 266.42 119.38 L 262.05 116.15 L 257.69 113.21 L 253.35 110.57 L 249.04 108.20 L 243.68 105.56 L 236.23 102.19 L 224.66 97.00 L 224.66 97.00" clip-path="url(#pd6e7ab36a4)" style="fill: none; stroke: #8c564b; stroke-width: 1.5; stroke-linecap: square"/>
   </g>
   <g id="line2d_58">
    <path d="M 333.23 252.42 L 333.09 252.29 L 332.82 251.56 L 332.56 250.20 L 331.62 244.22 L 330.01 235.45 L 327.85 224.86 L 325.67 215.17 L 323.47 206.44 L 321.25 198.72 L 319.58 193.59 L 317.90 188.98 L 315.65 183.55 L 313.40 178.82 L 311.14 174.63 L 308.31 169.93 L 304.91 164.80 L 299.84 157.62 L 294.21 150.04 L 289.73 144.30 L 285.26 138.92 L 280.80 133.97 L 276.36 129.45 L 273.04 126.35 L 268.63 122.57 L 264.23 119.11 L 259.86 115.94 L 255.51 113.06 L 251.18 110.46 L 246.87 108.14 L 241.52 105.53 L 231.97 101.24 L 223.57 97.38 L 223.57 97.38" clip-path="url(#pd6e7ab36a4)" style="fill: none; stroke: #e377c2; stroke-width: 1.5; stroke-linecap: square"/>
   </g>
   <g id="line2d_59">
    <path d="M 332.16 252.86 L 332.03 252.73 L 331.76 251.99 L 331.50 250.63 L 330.55 244.62 L 328.95 235.80 L 326.78 225.20 L 324.60 215.55 L 322.39 206.87 L 320.17 199.20 L 318.50 194.11 L 316.26 188.11 L 314.01 182.88 L 311.75 178.32 L 309.48 174.24 L 306.66 169.64 L 303.26 164.58 L 298.75 158.23 L 293.12 150.67 L 288.64 144.94 L 284.16 139.58 L 279.71 134.61 L 275.26 130.08 L 271.94 126.96 L 267.53 123.16 L 263.14 119.69 L 258.77 116.50 L 254.42 113.59 L 250.09 110.98 L 245.78 108.63 L 240.42 106.01 L 230.87 101.68 L 222.47 97.77 L 222.47 97.77" clip-path="url(#pd6e7ab36a4)" style="fill: none; stroke: #7f7f7f; stroke-width: 1.5; stroke-linecap: square"/>
   </g>
   <g id="line2d_60">
    <path d="M 331.10 253.29 L 330.96 253.16 L 330.69 252.42 L 330.44 251.06 L 329.48 245.02 L 327.88 236.15 L 325.71 225.54 L 323.52 215.91 L 321.32 207.29 L 319.10 199.68 L 317.42 194.62 L 315.18 188.66 L 312.92 183.46 L 310.66 178.91 L 308.40 174.84 L 305.57 170.23 L 302.17 165.17 L 297.66 158.83 L 292.03 151.30 L 287.54 145.59 L 283.07 140.23 L 278.61 135.26 L 274.17 130.71 L 269.75 126.59 L 265.34 122.86 L 260.95 119.45 L 256.58 116.31 L 252.24 113.45 L 247.91 110.88 L 243.61 108.57 L 238.26 105.98 L 221.38 98.16 L 221.38 98.16" clip-path="url(#pd6e7ab36a4)" style="fill: none; stroke: #bcbd22; stroke-width: 1.5; stroke-linecap: square"/>
   </g>
   <g id="line2d_61">
    <path d="M 330.03 253.72 L 329.89 253.59 L 329.63 252.86 L 329.37 251.49 L 327.88 242.32 L 326.27 233.74 L 324.09 223.36 L 321.90 214.02 L 319.69 205.71 L 317.46 198.41 L 315.78 193.57 L 313.53 187.85 L 311.27 182.85 L 309.01 178.45 L 306.74 174.48 L 303.91 169.95 L 300.52 164.95 L 295.44 157.89 L 289.82 150.47 L 285.33 144.87 L 280.86 139.61 L 276.41 134.74 L 271.97 130.28 L 267.55 126.24 L 263.14 122.57 L 258.76 119.22 L 254.40 116.13 L 250.06 113.32 L 245.74 110.79 L 241.44 108.52 L 236.10 105.95 L 220.28 98.55 L 220.28 98.55" clip-path="url(#pd6e7ab36a4)" style="fill: none; stroke: #17becf; stroke-width: 1.5; stroke-linecap: square"/>
   </g>
   <g id="line2d_62">
    <path d="M 328.97 254.16 L 328.83 254.03 L 328.56 253.29 L 328.30 251.92 L 326.81 242.72 L 325.20 234.07 L 323.02 223.67 L 320.82 214.37 L 318.61 206.12 L 316.37 198.89 L 314.69 194.09 L 312.44 188.42 L 310.18 183.45 L 307.92 179.06 L 305.66 175.09 L 302.82 170.57 L 299.43 165.56 L 294.35 158.51 L 288.72 151.13 L 284.24 145.55 L 279.76 140.31 L 275.31 135.43 L 270.87 130.96 L 266.45 126.90 L 262.05 123.22 L 257.66 119.85 L 253.30 116.75 L 248.96 113.92 L 244.64 111.37 L 240.34 109.07 L 235.00 106.48 L 219.18 99.02 L 219.18 99.02" clip-path="url(#pd6e7ab36a4)" style="fill: none; stroke: #1f77b4; stroke-width: 1.5; stroke-linecap: square"/>
   </g>
   <g id="line2d_63">
    <path d="M 327.90 254.59 L 327.76 254.46 L 327.49 253.73 L 327.23 252.36 L 325.74 243.11 L 324.12 234.40 L 321.94 223.97 L 319.74 214.70 L 317.52 206.52 L 315.29 199.36 L 313.61 194.60 L 311.35 188.98 L 309.09 184.04 L 306.83 179.66 L 304.00 174.75 L 301.17 170.30 L 297.21 164.54 L 292.13 157.60 L 286.50 150.33 L 282.02 144.86 L 277.55 139.72 L 273.10 134.94 L 268.66 130.56 L 264.25 126.58 L 259.85 122.96 L 255.47 119.64 L 251.11 116.58 L 246.78 113.80 L 242.46 111.28 L 238.17 109.02 L 231.77 105.95 L 219.13 99.98 L 218.08 99.41 L 218.08 99.41" clip-path="url(#pd6e7ab36a4)" style="fill: none; stroke: #ff7f0e; stroke-width: 1.5; stroke-linecap: square"/>
   </g>
   <g id="line2d_64">
    <path d="M 326.83 255.03 L 326.69 254.90 L 326.42 254.16 L 326.16 252.80 L 324.67 243.52 L 323.05 234.73 L 320.87 224.26 L 318.66 215.02 L 316.44 206.90 L 314.21 199.82 L 311.96 193.65 L 309.70 188.26 L 307.44 183.50 L 305.17 179.24 L 302.34 174.44 L 298.94 169.20 L 294.98 163.55 L 289.90 156.72 L 284.28 149.59 L 279.80 144.22 L 275.34 139.17 L 270.89 134.49 L 266.46 130.19 L 262.05 126.29 L 257.65 122.74 L 253.28 119.47 L 248.93 116.46 L 244.59 113.71 L 240.29 111.24 L 236.00 109.00 L 228.55 105.44 L 218.02 100.42 L 216.98 99.84 L 216.98 99.84" clip-path="url(#pd6e7ab36a4)" style="fill: none; stroke: #2ca02c; stroke-width: 1.5; stroke-linecap: square"/>
   </g>
   <g id="line2d_65">
    <path d="M 325.75 255.46 L 325.61 255.33 L 325.35 254.60 L 325.09 253.25 L 323.59 243.93 L 321.97 235.06 L 319.79 224.55 L 317.58 215.33 L 315.92 209.20 L 314.24 203.66 L 312.56 198.67 L 310.30 192.78 L 308.04 187.60 L 305.78 183.00 L 303.51 178.85 L 300.68 174.13 L 297.28 168.96 L 293.32 163.37 L 288.81 157.34 L 283.18 150.24 L 278.70 144.90 L 274.24 139.87 L 269.79 135.18 L 265.36 130.87 L 260.94 126.95 L 256.55 123.38 L 252.18 120.09 L 247.82 117.06 L 243.49 114.29 L 239.18 111.78 L 234.90 109.51 L 228.51 106.42 L 216.92 100.86 L 215.87 100.27 L 215.87 100.27" clip-path="url(#pd6e7ab36a4)" style="fill: none; stroke: #d62728; stroke-width: 1.5; stroke-linecap: square"/>
   </g>
   <g id="line2d_66">
    <path d="M 324.68 255.90 L 324.54 255.77 L 324.27 255.04 L 324.01 253.69 L 322.52 244.35 L 320.90 235.39 L 319.26 227.33 L 317.61 220.07 L 315.95 213.54 L 314.27 207.66 L 312.59 202.37 L 310.34 196.13 L 308.08 190.67 L 305.82 185.83 L 303.55 181.49 L 300.72 176.58 L 297.88 172.09 L 294.48 167.11 L 289.96 160.91 L 285.46 155.07 L 279.84 148.20 L 275.37 143.03 L 270.91 138.18 L 266.47 133.68 L 262.05 129.54 L 257.64 125.78 L 253.26 122.34 L 248.89 119.17 L 244.55 116.24 L 240.23 113.57 L 235.93 111.15 L 230.59 108.43 L 214.77 100.70 L 214.77 100.70" clip-path="url(#pd6e7ab36a4)" style="fill: none; stroke: #9467bd; stroke-width: 1.5; stroke-linecap: square"/>
   </g>
   <g id="line2d_67">
    <path d="M 323.60 256.34 L 323.47 256.21 L 323.20 255.48 L 322.94 254.14 L 320.90 241.65 L 319.27 232.93 L 317.63 225.11 L 315.97 218.11 L 314.30 211.85 L 312.63 206.23 L 310.94 201.18 L 308.69 195.22 L 306.42 189.98 L 304.16 185.31 L 301.89 181.08 L 299.05 176.27 L 295.65 171.00 L 291.69 165.33 L 287.74 160.03 L 283.23 154.31 L 277.62 147.57 L 272.03 141.29 L 267.58 136.61 L 263.15 132.28 L 258.74 128.32 L 254.34 124.71 L 249.97 121.39 L 245.62 118.31 L 241.28 115.49 L 236.97 112.91 L 232.69 110.58 L 226.30 107.40 L 214.71 101.77 L 213.67 101.17 L 213.67 101.17" clip-path="url(#pd6e7ab36a4)" style="fill: none; stroke: #8c564b; stroke-width: 1.5; stroke-linecap: square"/>
   </g>
   <g id="line2d_68">
    <path d="M 322.53 256.78 L 322.39 256.65 L 322.12 255.93 L 321.86 254.59 L 319.82 242.06 L 318.19 233.25 L 316.55 225.40 L 314.89 218.41 L 313.22 212.18 L 311.54 206.61 L 309.85 201.63 L 307.59 195.74 L 305.33 190.56 L 303.06 185.91 L 300.22 180.69 L 297.39 175.96 L 293.99 170.75 L 290.02 165.15 L 285.51 159.18 L 281.00 153.57 L 275.40 146.97 L 269.82 140.80 L 265.37 136.21 L 260.94 131.96 L 256.53 128.07 L 252.14 124.51 L 247.77 121.24 L 242.34 117.48 L 238.02 114.75 L 233.72 112.26 L 228.38 109.45 L 218.85 104.80 L 213.60 102.21 L 212.56 101.60 L 212.56 101.60" clip-path="url(#pd6e7ab36a4)" style="fill: none; stroke: #e377c2; stroke-width: 1.5; stroke-linecap: square"/>
   </g>
   <g id="line2d_69">
    <path d="M 321.45 257.22 L 321.31 257.09 L 321.04 256.37 L 320.78 255.04 L 318.74 242.48 L 317.11 233.58 L 315.46 225.69 L 313.80 218.70 L 312.13 212.51 L 310.45 207.00 L 308.76 202.07 L 306.50 196.26 L 304.23 191.13 L 301.96 186.52 L 299.13 181.31 L 296.29 176.57 L 292.89 171.35 L 288.92 165.74 L 284.40 159.79 L 279.90 154.22 L 274.29 147.66 L 268.71 141.52 L 264.26 136.93 L 259.83 132.67 L 255.42 128.76 L 251.03 125.19 L 246.67 121.89 L 241.23 118.10 L 236.91 115.33 L 232.61 112.81 L 227.27 109.95 L 218.80 105.75 L 212.50 102.64 L 211.45 102.03 L 211.45 102.03" clip-path="url(#pd6e7ab36a4)" style="fill: none; stroke: #7f7f7f; stroke-width: 1.5; stroke-linecap: square"/>
   </g>
   <g id="line2d_70">
    <path d="M 320.37 257.65 L 320.23 257.53 L 319.96 256.81 L 319.70 255.49 L 317.11 239.80 L 315.48 231.17 L 313.82 223.57 L 312.16 216.87 L 310.48 210.96 L 308.79 205.71 L 307.10 201.01 L 304.84 195.46 L 302.57 190.52 L 300.30 186.05 L 297.46 180.95 L 294.62 176.29 L 291.22 171.13 L 287.25 165.59 L 283.30 160.43 L 278.79 154.90 L 273.19 148.39 L 267.60 142.28 L 263.15 137.70 L 258.73 133.44 L 254.32 129.52 L 249.93 125.92 L 245.56 122.60 L 240.12 118.78 L 235.80 115.98 L 231.50 113.42 L 226.16 110.51 L 218.74 106.78 L 211.39 103.16 L 210.34 102.54 L 210.34 102.54" clip-path="url(#pd6e7ab36a4)" style="fill: none; stroke: #bcbd22; stroke-width: 1.5; stroke-linecap: square"/>
   </g>
   <g id="line2d_71">
    <path d="M 319.29 258.09 L 319.15 257.97 L 318.88 257.26 L 318.62 255.95 L 316.03 240.22 L 314.39 231.51 L 312.73 223.88 L 311.07 217.20 L 309.39 211.32 L 307.70 206.12 L 306.00 201.48 L 303.74 195.99 L 301.47 191.10 L 298.63 185.60 L 295.79 180.61 L 292.38 175.13 L 288.98 170.11 L 285.58 165.45 L 281.07 159.66 L 276.56 154.24 L 270.96 147.86 L 265.38 141.86 L 260.94 137.37 L 256.51 133.18 L 252.11 129.32 L 247.72 125.78 L 243.36 122.50 L 237.93 118.72 L 232.54 115.28 L 227.18 112.20 L 220.80 108.85 L 209.23 103.02 L 209.23 103.02" clip-path="url(#pd6e7ab36a4)" style="fill: none; stroke: #17becf; stroke-width: 1.5; stroke-linecap: square"/>
   </g>
   <g id="line2d_72">
    <path d="M 318.20 258.53 L 317.93 258.13 L 317.66 257.13 L 316.56 250.44 L 314.40 237.61 L 312.75 229.21 L 311.09 221.89 L 309.41 215.51 L 307.73 209.91 L 306.04 204.96 L 304.34 200.53 L 302.07 195.27 L 299.80 190.55 L 296.96 185.19 L 294.12 180.29 L 290.71 174.89 L 287.31 169.93 L 283.35 164.60 L 278.83 158.94 L 273.21 152.36 L 267.61 146.17 L 262.05 140.36 L 257.61 136.03 L 253.20 131.99 L 248.80 128.28 L 244.43 124.85 L 238.99 120.90 L 233.58 117.28 L 228.21 114.00 L 222.87 111.04 L 216.52 107.78 L 208.12 103.53 L 208.12 103.53" clip-path="url(#pd6e7ab36a4)" style="fill: none; stroke: #1f77b4; stroke-width: 1.5; stroke-linecap: square"/>
   </g>
   <g id="line2d_73">
    <path d="M 317.12 258.98 L 316.85 258.58 L 316.58 257.59 L 315.48 250.95 L 313.31 238.05 L 311.66 229.58 L 310.00 222.24 L 308.32 215.88 L 306.63 210.31 L 304.94 205.40 L 303.24 201.02 L 300.97 195.82 L 298.70 191.14 L 295.85 185.81 L 293.01 180.91 L 289.60 175.52 L 286.20 170.56 L 283.37 166.72 L 278.85 160.99 L 274.35 155.65 L 268.74 149.36 L 263.16 143.43 L 257.61 137.88 L 253.19 133.77 L 248.79 129.96 L 244.41 126.44 L 238.96 122.39 L 233.55 118.67 L 228.17 115.27 L 222.83 112.18 L 216.46 108.82 L 207.00 104.04 L 207.00 104.04" clip-path="url(#pd6e7ab36a4)" style="fill: none; stroke: #ff7f0e; stroke-width: 1.5; stroke-linecap: square"/>
   </g>
   <g id="line2d_74">
    <path d="M 316.03 259.42 L 315.76 259.02 L 315.49 258.04 L 314.39 251.48 L 312.21 238.51 L 310.57 229.99 L 308.90 222.63 L 307.22 216.27 L 305.54 210.73 L 303.84 205.86 L 302.14 201.52 L 299.87 196.37 L 297.59 191.74 L 294.75 186.43 L 291.90 181.55 L 288.50 176.16 L 285.09 171.21 L 282.26 167.38 L 277.74 161.68 L 273.23 156.37 L 267.63 150.13 L 262.05 144.24 L 256.49 138.72 L 252.07 134.60 L 247.67 130.78 L 243.29 127.23 L 237.85 123.16 L 232.43 119.40 L 227.06 115.94 L 221.71 112.79 L 216.40 109.92 L 210.08 106.75 L 206.94 105.21 L 205.89 104.59 L 205.89 104.59" clip-path="url(#pd6e7ab36a4)" style="fill: none; stroke: #2ca02c; stroke-width: 1.5; stroke-linecap: square"/>
   </g>
   <g id="line2d_75">
    <path d="M 314.95 259.86 L 314.67 259.47 L 314.40 258.50 L 313.30 252.01 L 310.57 236.00 L 308.92 227.84 L 307.25 220.82 L 305.56 214.76 L 303.87 209.49 L 302.17 204.84 L 299.90 199.40 L 297.62 194.57 L 294.78 189.10 L 291.93 184.08 L 288.52 178.54 L 285.12 173.46 L 281.71 168.78 L 277.76 163.74 L 273.25 158.38 L 267.63 152.11 L 262.05 146.18 L 256.49 140.61 L 250.96 135.42 L 246.56 131.58 L 242.18 128.02 L 236.73 123.91 L 231.32 120.11 L 225.94 116.59 L 220.60 113.37 L 215.29 110.44 L 210.01 107.77 L 204.77 105.10 L 204.77 105.10" clip-path="url(#pd6e7ab36a4)" style="fill: none; stroke: #d62728; stroke-width: 1.5; stroke-linecap: square"/>
   </g>
   <g id="line2d_76">
    <path d="M 313.86 260.30 L 313.58 259.91 L 313.31 258.96 L 312.20 252.55 L 309.48 236.51 L 307.82 228.30 L 306.15 221.26 L 304.46 215.21 L 302.77 209.96 L 301.07 205.34 L 298.80 199.93 L 296.52 195.14 L 293.67 189.70 L 290.82 184.70 L 287.41 179.18 L 284.00 174.12 L 280.60 169.46 L 276.64 164.44 L 272.13 159.12 L 266.52 152.89 L 260.93 147.00 L 255.37 141.45 L 249.84 136.28 L 245.44 132.43 L 241.06 128.84 L 235.62 124.70 L 230.20 120.86 L 224.82 117.29 L 219.48 114.00 L 214.17 111.01 L 208.90 108.31 L 203.66 105.66 L 203.66 105.66" clip-path="url(#pd6e7ab36a4)" style="fill: none; stroke: #9467bd; stroke-width: 1.5; stroke-linecap: square"/>
   </g>
   <g id="line2d_77">
    <path d="M 312.77 260.75 L 312.49 260.36 L 312.22 259.41 L 311.11 253.09 L 308.38 237.05 L 306.72 228.81 L 305.05 221.75 L 303.36 215.70 L 301.66 210.45 L 299.96 205.85 L 297.69 200.47 L 295.41 195.70 L 292.56 190.29 L 289.71 185.32 L 286.30 179.82 L 282.89 174.77 L 279.49 170.13 L 275.53 165.14 L 271.02 159.84 L 265.40 153.65 L 259.81 147.81 L 254.26 142.29 L 248.73 137.12 L 243.23 132.34 L 237.76 127.94 L 232.33 123.89 L 226.93 120.11 L 221.56 116.58 L 216.23 113.34 L 210.94 110.42 L 205.68 107.82 L 203.59 106.80 L 202.54 106.17 L 202.54 106.17" clip-path="url(#pd6e7ab36a4)" style="fill: none; stroke: #8c564b; stroke-width: 1.5; stroke-linecap: square"/>
   </g>
   <g id="line2d_78">
    <path d="M 311.68 261.19 L 311.40 260.81 L 311.13 259.87 L 310.01 253.63 L 306.73 234.73 L 305.06 226.89 L 303.38 220.18 L 301.69 214.41 L 299.99 209.40 L 298.29 204.98 L 296.01 199.80 L 293.73 195.17 L 290.88 189.88 L 288.03 185.01 L 284.62 179.62 L 281.21 174.67 L 277.81 170.12 L 273.28 164.53 L 268.78 159.36 L 263.16 153.29 L 257.58 147.55 L 252.03 142.13 L 246.51 137.06 L 241.01 132.34 L 235.55 127.99 L 230.13 123.96 L 223.66 119.47 L 218.31 115.98 L 212.99 112.80 L 208.76 110.51 L 203.51 107.96 L 201.42 106.80 L 201.42 106.80" clip-path="url(#pd6e7ab36a4)" style="fill: none; stroke: #e377c2; stroke-width: 1.5; stroke-linecap: square"/>
   </g>
   <g id="line2d_79">
    <path d="M 310.58 261.64 L 310.31 261.26 L 310.04 260.33 L 308.92 254.18 L 305.63 235.35 L 303.96 227.49 L 302.28 220.77 L 300.58 214.99 L 298.88 209.97 L 297.18 205.55 L 294.90 200.37 L 292.62 195.74 L 289.77 190.47 L 286.92 185.63 L 283.50 180.27 L 280.09 175.36 L 276.69 170.83 L 272.17 165.27 L 267.66 160.13 L 262.05 154.09 L 256.46 148.39 L 250.91 143.00 L 245.39 137.94 L 239.89 133.22 L 234.43 128.84 L 229.01 124.77 L 222.54 120.22 L 216.12 116.00 L 211.87 113.43 L 207.64 111.10 L 203.44 109.01 L 201.35 108.00 L 200.30 107.36 L 200.30 107.36" clip-path="url(#pd6e7ab36a4)" style="fill: none; stroke: #7f7f7f; stroke-width: 1.5; stroke-linecap: square"/>
   </g>
   <g id="line2d_80">
    <path d="M 309.49 262.08 L 309.21 261.70 L 308.94 260.79 L 307.82 254.72 L 304.52 236.02 L 302.85 228.17 L 301.17 221.44 L 299.47 215.65 L 297.77 210.61 L 296.07 206.17 L 293.79 200.96 L 291.51 196.34 L 288.65 191.08 L 285.80 186.27 L 282.39 180.95 L 278.98 176.08 L 275.57 171.59 L 271.05 166.07 L 266.54 160.95 L 260.93 154.95 L 255.34 149.29 L 249.79 143.93 L 244.27 138.90 L 238.77 134.18 L 233.31 129.78 L 227.89 125.68 L 221.42 121.09 L 215.00 116.80 L 210.75 114.18 L 206.52 111.81 L 202.32 109.70 L 200.22 108.68 L 199.18 108.03 L 199.18 108.03" clip-path="url(#pd6e7ab36a4)" style="fill: none; stroke: #bcbd22; stroke-width: 1.5; stroke-linecap: square"/>
   </g>
   <g id="line2d_81">
    <path d="M 308.39 262.53 L 308.11 262.15 L 307.84 261.25 L 306.72 255.25 L 302.86 234.01 L 301.18 226.57 L 299.49 220.16 L 297.80 214.60 L 296.09 209.74 L 294.39 205.44 L 292.10 200.38 L 289.82 195.85 L 286.97 190.70 L 284.12 186.00 L 280.70 180.82 L 277.29 176.06 L 273.32 170.96 L 268.80 165.58 L 264.29 160.57 L 258.69 154.68 L 253.11 149.12 L 247.56 143.87 L 242.04 138.92 L 236.56 134.27 L 231.11 129.92 L 225.69 125.85 L 219.23 121.27 L 212.81 116.98 L 208.57 114.38 L 204.35 112.02 L 198.06 108.74 L 198.06 108.74" clip-path="url(#pd6e7ab36a4)" style="fill: none; stroke: #17becf; stroke-width: 1.5; stroke-linecap: square"/>
   </g>
   <g id="line2d_82">
    <path d="M 307.29 262.97 L 307.02 262.60 L 306.75 261.70 L 305.62 255.77 L 301.75 234.81 L 300.07 227.39 L 298.38 220.96 L 296.68 215.37 L 294.98 210.46 L 293.27 206.11 L 290.99 200.99 L 288.71 196.44 L 285.85 191.29 L 283.00 186.62 L 279.58 181.49 L 276.17 176.79 L 272.20 171.73 L 267.68 166.38 L 263.17 161.39 L 257.56 155.52 L 251.98 149.99 L 246.44 144.77 L 240.92 139.84 L 235.44 135.20 L 229.98 130.84 L 223.48 125.95 L 217.03 121.38 L 210.63 117.10 L 206.39 114.49 L 202.17 112.15 L 196.93 109.34 L 196.93 109.34" clip-path="url(#pd6e7ab36a4)" style="fill: none; stroke: #1f77b4; stroke-width: 1.5; stroke-linecap: square"/>
   </g>
   <g id="line2d_83">
    <path d="M 306.19 263.42 L 305.92 263.05 L 305.65 262.16 L 304.52 256.28 L 300.64 235.66 L 298.96 228.27 L 297.27 221.83 L 295.57 216.19 L 293.86 211.23 L 292.15 206.82 L 289.87 201.64 L 287.59 197.05 L 284.73 191.91 L 281.88 187.27 L 278.46 182.20 L 275.05 177.56 L 271.08 172.54 L 266.55 167.22 L 262.05 162.25 L 256.44 156.41 L 250.86 150.91 L 245.31 145.72 L 239.80 140.82 L 233.22 135.30 L 226.69 130.15 L 220.20 125.36 L 212.70 120.12 L 207.38 116.64 L 203.15 114.10 L 198.95 111.81 L 196.85 110.70 L 195.81 110.02 L 195.81 110.02" clip-path="url(#pd6e7ab36a4)" style="fill: none; stroke: #ff7f0e; stroke-width: 1.5; stroke-linecap: square"/>
   </g>
   <g id="line2d_84">
    <path d="M 305.09 263.87 L 304.81 263.50 L 304.54 262.61 L 303.41 256.78 L 299.53 236.53 L 297.84 229.20 L 296.15 222.75 L 294.45 217.07 L 292.75 212.05 L 291.04 207.58 L 288.75 202.32 L 286.47 197.69 L 284.18 193.53 L 281.33 188.83 L 278.48 184.56 L 275.06 179.85 L 271.09 174.78 L 266.56 169.40 L 262.05 164.37 L 256.43 158.48 L 250.85 152.95 L 245.29 147.74 L 238.67 141.87 L 232.09 136.38 L 225.56 131.24 L 219.08 126.42 L 211.58 121.16 L 205.20 116.98 L 199.92 113.83 L 194.68 110.82 L 194.68 110.82" clip-path="url(#pd6e7ab36a4)" style="fill: none; stroke: #2ca02c; stroke-width: 1.5; stroke-linecap: square"/>
   </g>
   <g id="line2d_85">
    <path d="M 303.99 264.32 L 303.71 263.95 L 303.44 263.06 L 302.31 257.27 L 298.41 237.40 L 296.73 230.13 L 295.03 223.68 L 293.33 217.96 L 291.63 212.88 L 289.92 208.35 L 287.63 203.02 L 285.35 198.36 L 283.06 194.19 L 280.21 189.51 L 277.35 185.29 L 273.94 180.64 L 269.96 175.62 L 265.43 170.27 L 260.92 165.27 L 255.31 159.40 L 249.72 153.90 L 244.17 148.73 L 237.55 142.90 L 230.97 137.43 L 224.44 132.29 L 217.96 127.47 L 210.45 122.18 L 204.08 117.95 L 198.80 114.71 L 193.56 111.59 L 193.56 111.59" clip-path="url(#pd6e7ab36a4)" style="fill: none; stroke: #d62728; stroke-width: 1.5; stroke-linecap: square"/>
   </g>
   <g id="line2d_86">
    <path d="M 302.88 264.77 L 302.61 264.40 L 302.34 263.51 L 301.20 257.75 L 297.86 240.83 L 296.17 233.36 L 294.48 226.68 L 292.78 220.71 L 291.08 215.39 L 289.37 210.64 L 287.65 206.38 L 285.37 201.35 L 283.08 196.93 L 280.80 192.98 L 277.94 188.53 L 275.09 184.49 L 271.67 180.02 L 267.70 175.14 L 263.17 169.92 L 258.67 165.01 L 253.06 159.25 L 247.48 153.86 L 241.93 148.79 L 235.32 143.07 L 228.75 137.69 L 222.23 132.62 L 215.76 127.84 L 208.26 122.59 L 201.89 118.37 L 196.63 115.10 L 192.43 112.51 L 192.43 112.51" clip-path="url(#pd6e7ab36a4)" style="fill: none; stroke: #9467bd; stroke-width: 1.5; stroke-linecap: square"/>
   </g>
   <g id="line2d_87">
    <path d="M 301.78 265.22 L 301.50 264.85 L 301.23 263.96 L 299.54 255.38 L 296.74 241.60 L 295.06 234.22 L 293.36 227.58 L 291.66 221.61 L 289.95 216.27 L 288.24 211.48 L 286.53 207.18 L 284.25 202.11 L 281.96 197.67 L 279.67 193.72 L 276.81 189.30 L 273.96 185.29 L 270.55 180.86 L 266.57 176.02 L 262.05 170.82 L 257.54 165.93 L 251.93 160.20 L 246.35 154.85 L 240.80 149.82 L 234.19 144.14 L 227.62 138.79 L 220.02 132.92 L 212.48 127.40 L 205.01 122.23 L 197.60 117.38 L 191.31 113.39 L 191.31 113.39" clip-path="url(#pd6e7ab36a4)" style="fill: none; stroke: #8c564b; stroke-width: 1.5; stroke-linecap: square"/>
   </g>
   <g id="line2d_88">
    <path d="M 300.67 265.67 L 300.39 265.30 L 300.12 264.41 L 298.43 255.86 L 295.63 242.33 L 293.37 232.78 L 291.67 226.41 L 289.97 220.66 L 288.26 215.49 L 286.55 210.85 L 284.26 205.38 L 281.98 200.62 L 279.69 196.44 L 277.40 192.70 L 274.54 188.48 L 271.12 183.90 L 267.14 178.95 L 263.18 174.30 L 258.66 169.30 L 253.04 163.43 L 247.45 157.98 L 241.89 152.87 L 235.26 147.11 L 228.68 141.70 L 221.06 135.75 L 213.50 130.15 L 206.01 124.86 L 198.59 119.88 L 190.18 114.43 L 190.18 114.43" clip-path="url(#pd6e7ab36a4)" style="fill: none; stroke: #e377c2; stroke-width: 1.5; stroke-linecap: square"/>
   </g>
   <g id="line2d_89">
    <path d="M 299.56 266.12 L 299.28 265.75 L 299.01 264.86 L 297.31 256.32 L 295.07 245.56 L 292.82 235.85 L 290.55 227.27 L 288.28 219.77 L 285.99 213.22 L 283.71 207.54 L 281.42 202.60 L 279.13 198.28 L 276.84 194.44 L 273.99 190.15 L 271.13 186.25 L 267.15 181.23 L 263.18 176.53 L 258.66 171.48 L 253.03 165.56 L 247.43 160.07 L 241.87 154.94 L 235.23 149.18 L 228.64 143.76 L 221.01 137.80 L 213.45 132.17 L 205.95 126.83 L 197.46 121.08 L 189.06 115.55 L 189.06 115.55" clip-path="url(#pd6e7ab36a4)" style="fill: none; stroke: #7f7f7f; stroke-width: 1.5; stroke-linecap: square"/>
   </g>
   <g id="line2d_90">
    <path d="M 298.45 266.57 L 298.17 266.20 L 297.90 265.31 L 292.26 238.89 L 290.00 230.14 L 287.72 222.43 L 285.44 215.67 L 283.15 209.78 L 280.86 204.65 L 278.57 200.18 L 276.28 196.24 L 274.00 192.69 L 271.14 188.66 L 267.72 184.25 L 263.18 178.78 L 258.65 173.67 L 254.14 168.86 L 248.54 163.25 L 242.96 158.03 L 237.41 153.13 L 230.80 147.60 L 223.15 141.54 L 215.56 135.82 L 206.96 129.62 L 198.45 123.76 L 187.93 116.74 L 187.93 116.74" clip-path="url(#pd6e7ab36a4)" style="fill: none; stroke: #bcbd22; stroke-width: 1.5; stroke-linecap: square"/>
   </g>
   <g id="line2d_91">
    <path d="M 297.34 267.02 L 297.06 266.65 L 296.79 265.76 L 291.71 241.92 L 289.44 233.02 L 287.16 225.13 L 284.88 218.18 L 282.60 212.09 L 280.31 206.79 L 278.02 202.16 L 275.73 198.10 L 273.44 194.47 L 270.58 190.36 L 267.16 185.89 L 263.18 181.06 L 258.65 175.89 L 254.14 171.04 L 249.64 166.48 L 244.05 161.16 L 238.49 156.19 L 231.87 150.61 L 225.29 145.35 L 217.67 139.54 L 209.05 133.26 L 199.45 126.56 L 186.81 118.06 L 186.81 118.06" clip-path="url(#pd6e7ab36a4)" style="fill: none; stroke: #17becf; stroke-width: 1.5; stroke-linecap: square"/>
   </g>
   <g id="line2d_92">
    <path d="M 296.22 267.48 L 295.95 267.11 L 295.67 266.21 L 291.15 244.92 L 288.88 235.90 L 286.61 227.87 L 284.33 220.77 L 282.04 214.52 L 279.75 209.04 L 277.46 204.27 L 275.17 200.09 L 272.88 196.37 L 270.02 192.19 L 266.60 187.66 L 262.61 182.80 L 258.65 178.26 L 254.13 173.38 L 249.63 168.80 L 244.03 163.46 L 238.47 158.51 L 231.84 152.94 L 225.25 147.72 L 217.63 141.96 L 209.00 135.72 L 199.39 129.06 L 185.69 119.84 L 185.69 119.84" clip-path="url(#pd6e7ab36a4)" style="fill: none; stroke: #1f77b4; stroke-width: 1.5; stroke-linecap: square"/>
   </g>
   <g id="line2d_93">
    <path d="M 295.11 267.93 L 294.83 267.56 L 294.56 266.67 L 290.03 245.51 L 287.76 236.63 L 285.48 228.70 L 283.20 221.68 L 280.91 215.48 L 278.62 210.04 L 276.32 205.28 L 274.03 201.11 L 271.74 197.39 L 268.88 193.20 L 265.46 188.68 L 261.48 183.84 L 257.51 179.31 L 252.99 174.47 L 248.49 169.94 L 244.01 165.69 L 238.44 160.73 L 232.91 156.08 L 226.31 150.83 L 218.67 145.06 L 210.02 138.84 L 200.39 132.19 L 184.57 121.55 L 184.57 121.55" clip-path="url(#pd6e7ab36a4)" style="fill: none; stroke: #ff7f0e; stroke-width: 1.5; stroke-linecap: square"/>
   </g>
   <g id="line2d_94">
    <path d="M 293.99 268.39 L 293.71 268.01 L 293.44 267.12 L 289.47 248.44 L 287.20 239.44 L 284.92 231.40 L 282.64 224.26 L 280.35 217.93 L 278.05 212.35 L 275.76 207.45 L 273.47 203.16 L 271.18 199.34 L 268.32 195.07 L 265.46 191.21 L 262.05 186.95 L 258.64 182.96 L 254.11 177.99 L 249.60 173.36 L 245.11 169.03 L 239.53 163.99 L 233.98 159.30 L 227.37 154.02 L 220.80 149.06 L 213.21 143.58 L 203.53 136.90 L 183.46 123.49 L 183.46 123.49" clip-path="url(#pd6e7ab36a4)" style="fill: none; stroke: #2ca02c; stroke-width: 1.5; stroke-linecap: square"/>
   </g>
   <g id="line2d_95">
    <path d="M 292.87 268.84 L 292.59 268.47 L 292.32 267.58 L 288.35 249.00 L 286.07 240.12 L 283.79 232.20 L 281.50 225.15 L 279.21 218.90 L 276.92 213.38 L 274.63 208.51 L 272.33 204.24 L 270.04 200.43 L 267.18 196.16 L 264.33 192.30 L 260.91 188.05 L 257.50 184.09 L 252.97 179.16 L 248.46 174.59 L 243.98 170.31 L 238.40 165.35 L 232.85 160.73 L 226.24 155.56 L 219.67 150.69 L 212.08 145.31 L 202.41 138.78 L 182.35 125.58 L 182.35 125.58" clip-path="url(#pd6e7ab36a4)" style="fill: none; stroke: #d62728; stroke-width: 1.5; stroke-linecap: square"/>
   </g>
   <g id="line2d_96">
    <path d="M 291.75 269.30 L 291.47 268.93 L 291.20 268.04 L 287.22 249.56 L 284.94 240.79 L 282.66 232.99 L 280.37 226.04 L 278.08 219.87 L 275.78 214.41 L 273.49 209.58 L 271.19 205.33 L 268.90 201.53 L 266.04 197.27 L 263.19 193.42 L 259.77 189.18 L 256.36 185.24 L 251.83 180.36 L 247.33 175.85 L 242.84 171.64 L 237.26 166.75 L 231.71 162.22 L 225.10 157.14 L 218.54 152.37 L 210.95 147.11 L 201.29 140.72 L 181.24 127.78 L 181.24 127.78" clip-path="url(#pd6e7ab36a4)" style="fill: none; stroke: #9467bd; stroke-width: 1.5; stroke-linecap: square"/>
   </g>
   <g id="line2d_97">
    <path d="M 290.63 269.75 L 290.35 269.38 L 290.08 268.50 L 286.09 250.13 L 283.81 241.47 L 281.53 233.78 L 279.24 226.94 L 276.94 220.86 L 274.65 215.46 L 272.35 210.68 L 270.06 206.45 L 267.76 202.67 L 264.90 198.43 L 262.05 194.59 L 258.63 190.38 L 255.22 186.47 L 250.69 181.65 L 246.19 177.19 L 241.70 173.05 L 236.12 168.26 L 230.58 163.81 L 223.97 158.85 L 217.41 154.19 L 209.82 149.06 L 200.16 142.84 L 180.13 130.22 L 180.13 130.22" clip-path="url(#pd6e7ab36a4)" style="fill: none; stroke: #8c564b; stroke-width: 1.5; stroke-linecap: square"/>
   </g>
   <g id="line2d_98">
    <path d="M 289.51 270.21 L 289.23 269.84 L 288.95 268.96 L 284.96 250.70 L 282.68 242.14 L 280.39 234.56 L 278.10 227.81 L 275.80 221.81 L 273.51 216.48 L 271.21 211.75 L 268.91 207.55 L 266.62 203.78 L 263.76 199.56 L 260.90 195.73 L 257.49 191.54 L 254.08 187.66 L 249.55 182.89 L 245.04 178.50 L 240.56 174.42 L 234.98 169.71 L 229.44 165.35 L 222.83 160.48 L 216.28 155.92 L 208.69 150.92 L 199.04 144.84 L 179.02 132.55 L 179.02 132.55" clip-path="url(#pd6e7ab36a4)" style="fill: none; stroke: #e377c2; stroke-width: 1.5; stroke-linecap: square"/>
   </g>
   <g id="line2d_99">
    <path d="M 288.38 270.67 L 288.10 270.30 L 287.83 269.43 L 283.83 251.29 L 281.55 242.81 L 279.26 235.32 L 276.96 228.67 L 274.66 222.76 L 272.37 217.50 L 270.07 212.82 L 267.77 208.66 L 265.48 204.91 L 262.62 200.71 L 259.76 196.90 L 256.34 192.73 L 252.94 188.88 L 248.41 184.17 L 243.90 179.84 L 239.42 175.83 L 234.95 172.10 L 229.41 167.76 L 223.89 163.71 L 217.32 159.17 L 209.72 154.19 L 201.12 148.84 L 178.95 135.43 L 177.91 134.95 L 177.91 134.95" clip-path="url(#pd6e7ab36a4)" style="fill: none; stroke: #7f7f7f; stroke-width: 1.5; stroke-linecap: square"/>
   </g>
   <g id="line2d_100">
    <path d="M 287.25 271.13 L 286.98 270.77 L 286.70 269.90 L 282.70 251.88 L 280.41 243.48 L 278.12 236.08 L 275.82 229.53 L 273.52 223.71 L 271.22 218.53 L 268.93 213.91 L 266.63 209.79 L 264.34 206.07 L 261.47 201.89 L 258.62 198.10 L 255.20 193.96 L 251.79 190.16 L 247.26 185.50 L 242.76 181.25 L 238.27 177.31 L 233.81 173.66 L 228.27 169.41 L 222.76 165.45 L 216.19 161.01 L 208.59 156.16 L 200.00 150.94 L 177.84 137.91 L 176.80 137.47 L 176.80 137.47" clip-path="url(#pd6e7ab36a4)" style="fill: none; stroke: #bcbd22; stroke-width: 1.5; stroke-linecap: square"/>
   </g>
   <g id="line2d_101">
    <path d="M 286.12 271.59 L 285.85 271.23 L 285.57 270.37 L 284.41 264.76 L 282.71 257.10 L 280.99 250.28 L 278.70 242.22 L 276.41 235.13 L 274.11 228.87 L 271.81 223.31 L 269.51 218.35 L 267.21 213.92 L 264.91 209.94 L 262.05 205.49 L 259.19 201.51 L 256.33 197.88 L 252.92 193.89 L 249.51 190.23 L 244.99 185.74 L 240.49 181.64 L 236.01 177.85 L 230.45 173.48 L 224.92 169.44 L 218.33 164.94 L 211.79 160.73 L 203.15 155.48 L 192.48 149.29 L 176.73 140.28 L 175.69 139.88 L 175.69 139.88" clip-path="url(#pd6e7ab36a4)" style="fill: none; stroke: #17becf; stroke-width: 1.5; stroke-linecap: square"/>
   </g>
   <g id="line2d_102">
    <path d="M 284.99 272.05 L 284.72 271.69 L 284.44 270.85 L 283.28 265.31 L 281.57 257.68 L 279.86 250.89 L 278.14 244.78 L 275.84 237.54 L 273.54 231.17 L 271.24 225.54 L 268.94 220.51 L 266.64 216.02 L 264.34 211.98 L 262.05 208.33 L 259.18 204.20 L 256.33 200.47 L 252.91 196.39 L 249.50 192.66 L 246.10 189.21 L 241.59 184.99 L 237.11 181.12 L 232.64 177.53 L 227.09 173.38 L 221.58 169.53 L 215.01 165.23 L 207.41 160.54 L 198.81 155.49 L 186.08 148.31 L 175.62 142.51 L 174.58 142.13 L 174.58 142.13" clip-path="url(#pd6e7ab36a4)" style="fill: none; stroke: #1f77b4; stroke-width: 1.5; stroke-linecap: square"/>
   </g>
   <g id="line2d_103">
    <path d="M 283.86 272.51 L 283.58 272.16 L 283.31 271.33 L 282.15 265.87 L 280.44 258.28 L 278.72 251.51 L 277.00 245.44 L 274.70 238.27 L 272.40 231.99 L 270.10 226.44 L 267.79 221.51 L 265.49 217.09 L 263.19 213.11 L 260.33 208.64 L 257.46 204.64 L 254.61 201.00 L 251.19 197.03 L 248.35 193.98 L 244.96 190.59 L 240.45 186.44 L 235.96 182.64 L 231.50 179.12 L 225.95 175.06 L 220.44 171.30 L 213.87 167.09 L 206.28 162.50 L 196.61 156.95 L 182.86 149.35 L 174.51 144.90 L 173.47 144.54 L 173.47 144.54" clip-path="url(#pd6e7ab36a4)" style="fill: none; stroke: #ff7f0e; stroke-width: 1.5; stroke-linecap: square"/>
   </g>
   <g id="line2d_104">
    <path d="M 282.73 272.97 L 282.45 272.62 L 282.18 271.81 L 281.01 266.45 L 279.30 258.91 L 277.58 252.14 L 275.86 246.10 L 274.13 240.68 L 271.83 234.27 L 269.53 228.65 L 267.22 223.67 L 264.92 219.22 L 262.62 215.20 L 259.75 210.70 L 256.89 206.66 L 254.03 203.01 L 250.61 199.02 L 247.20 195.39 L 243.81 192.05 L 239.30 187.98 L 234.82 184.26 L 230.35 180.82 L 224.81 176.86 L 219.30 173.19 L 212.73 169.08 L 205.14 164.60 L 194.42 158.57 L 181.74 151.67 L 174.43 147.89 L 172.36 147.06 L 172.36 147.06" clip-path="url(#pd6e7ab36a4)" style="fill: none; stroke: #2ca02c; stroke-width: 1.5; stroke-linecap: square"/>
   </g>
   <g id="line2d_105">
    <path d="M 281.59 273.43 L 281.32 273.09 L 281.04 272.29 L 279.88 267.03 L 277.59 257.19 L 275.87 250.68 L 274.14 244.88 L 272.41 239.69 L 270.11 233.58 L 267.80 228.22 L 265.50 223.47 L 263.20 219.21 L 260.90 215.36 L 258.03 211.02 L 255.17 207.12 L 252.31 203.57 L 248.89 199.70 L 246.05 196.74 L 242.66 193.46 L 238.15 189.45 L 233.67 185.79 L 229.21 182.43 L 223.66 178.55 L 218.16 174.95 L 211.60 170.93 L 202.93 165.93 L 190.10 158.83 L 179.57 153.19 L 173.32 150.09 L 171.25 149.28 L 171.25 149.28" clip-path="url(#pd6e7ab36a4)" style="fill: none; stroke: #d62728; stroke-width: 1.5; stroke-linecap: square"/>
   </g>
   <g id="line2d_106">
    <path d="M 280.46 273.89 L 280.18 273.56 L 279.90 272.78 L 278.74 267.63 L 276.45 257.83 L 274.72 251.32 L 273.00 245.53 L 271.27 240.39 L 269.54 235.78 L 267.23 230.33 L 264.92 225.54 L 262.62 221.26 L 260.32 217.39 L 257.45 213.03 L 254.59 209.11 L 251.73 205.55 L 248.31 201.67 L 244.90 198.15 L 241.51 194.92 L 237.00 190.98 L 232.52 187.40 L 228.06 184.10 L 222.52 180.30 L 217.01 176.79 L 210.46 172.86 L 201.80 167.94 L 184.75 158.61 L 177.40 154.80 L 172.20 152.36 L 170.13 151.53 L 170.13 151.53" clip-path="url(#pd6e7ab36a4)" style="fill: none; stroke: #9467bd; stroke-width: 1.5; stroke-linecap: square"/>
   </g>
   <g id="line2d_107">
    <path d="M 279.32 274.35 L 279.04 274.03 L 278.76 273.27 L 277.60 268.23 L 275.30 258.48 L 273.58 251.98 L 271.85 246.22 L 270.12 241.11 L 268.39 236.56 L 266.08 231.21 L 263.77 226.52 L 261.47 222.34 L 259.17 218.56 L 256.30 214.30 L 253.43 210.46 L 250.58 206.98 L 247.16 203.18 L 243.75 199.74 L 240.36 196.57 L 235.86 192.72 L 231.37 189.22 L 226.92 186.01 L 221.38 182.31 L 215.88 178.90 L 209.32 175.08 L 199.59 169.71 L 179.43 158.90 L 174.21 156.39 L 169.03 154.22 L 169.03 154.22" clip-path="url(#pd6e7ab36a4)" style="fill: none; stroke: #8c564b; stroke-width: 1.5; stroke-linecap: square"/>
   </g>
   <g id="line2d_108">
    <path d="M 278.18 274.82 L 277.90 274.50 L 277.62 273.76 L 276.45 268.84 L 273.58 256.89 L 271.86 250.64 L 270.12 245.13 L 268.39 240.26 L 266.66 235.93 L 264.35 230.85 L 262.05 226.39 L 259.74 222.42 L 256.87 217.98 L 254.00 213.99 L 251.14 210.39 L 247.71 206.49 L 244.30 202.95 L 240.34 199.21 L 235.83 195.34 L 231.34 191.83 L 226.88 188.62 L 221.34 184.95 L 215.83 181.58 L 209.27 177.81 L 199.54 172.53 L 177.26 160.77 L 173.09 158.87 L 167.92 156.75 L 167.92 156.75" clip-path="url(#pd6e7ab36a4)" style="fill: none; stroke: #e377c2; stroke-width: 1.5; stroke-linecap: square"/>
   </g>
   <g id="line2d_109">
    <path d="M 277.04 275.28 L 276.76 274.97 L 276.48 274.24 L 275.88 271.85 L 271.86 255.37 L 270.13 249.39 L 268.40 244.12 L 266.67 239.48 L 264.93 235.36 L 262.62 230.53 L 260.32 226.30 L 258.01 222.53 L 255.14 218.30 L 252.27 214.50 L 249.41 211.06 L 245.99 207.32 L 242.58 203.91 L 239.19 200.79 L 234.68 196.99 L 230.19 193.54 L 225.73 190.38 L 220.19 186.78 L 214.69 183.49 L 208.13 179.81 L 198.40 174.65 L 175.10 162.57 L 171.98 161.25 L 166.81 159.16 L 166.81 159.16" clip-path="url(#pd6e7ab36a4)" style="fill: none; stroke: #7f7f7f; stroke-width: 1.5; stroke-linecap: square"/>
   </g>
   <g id="line2d_110">
    <path d="M 275.89 275.75 L 275.62 275.44 L 275.34 274.73 L 274.74 272.40 L 270.13 254.00 L 268.40 248.29 L 266.67 243.28 L 264.93 238.88 L 263.20 234.98 L 260.89 230.41 L 258.58 226.41 L 256.28 222.85 L 253.41 218.85 L 250.54 215.27 L 247.69 212.01 L 244.27 208.46 L 240.30 204.70 L 235.78 200.81 L 231.28 197.28 L 226.81 194.06 L 222.37 191.12 L 216.85 187.76 L 210.27 184.09 L 202.67 180.12 L 176.08 166.73 L 171.92 164.98 L 168.81 163.93 L 166.75 163.26 L 165.72 162.58 L 165.72 162.58" clip-path="url(#pd6e7ab36a4)" style="fill: none; stroke: #bcbd22; stroke-width: 1.5; stroke-linecap: square"/>
   </g>
   <g id="line2d_111">
    <path d="M 274.75 276.21 L 274.47 275.91 L 274.19 275.22 L 273.59 272.95 L 268.98 254.72 L 267.25 249.04 L 265.52 244.07 L 263.78 239.70 L 262.05 235.84 L 259.74 231.34 L 257.43 227.42 L 255.13 223.95 L 252.25 220.08 L 249.39 216.62 L 246.53 213.49 L 243.11 210.07 L 239.14 206.42 L 234.63 202.62 L 230.13 199.16 L 225.67 195.99 L 221.22 193.11 L 215.70 189.84 L 210.22 186.84 L 202.61 182.97 L 177.06 170.48 L 172.89 168.69 L 169.78 167.60 L 165.66 166.41 L 164.62 165.61 L 164.62 165.61" clip-path="url(#pd6e7ab36a4)" style="fill: none; stroke: #17becf; stroke-width: 1.5; stroke-linecap: square"/>
   </g>
   <g id="line2d_112">
    <path d="M 273.60 276.68 L 273.32 276.38 L 273.05 275.70 L 272.45 273.48 L 267.25 253.53 L 265.52 248.13 L 263.78 243.38 L 262.05 239.21 L 260.31 235.51 L 258.00 231.20 L 255.69 227.44 L 253.39 224.12 L 251.09 221.13 L 248.23 217.79 L 245.37 214.77 L 241.96 211.46 L 237.99 207.91 L 233.47 204.19 L 228.98 200.78 L 224.51 197.65 L 220.07 194.80 L 214.55 191.58 L 209.08 188.64 L 201.47 184.85 L 176.99 173.20 L 172.81 171.42 L 169.69 170.32 L 166.60 169.52 L 165.57 169.32 L 164.54 168.94 L 163.50 168.03 L 163.50 168.03" clip-path="url(#pd6e7ab36a4)" style="fill: none; stroke: #1f77b4; stroke-width: 1.5; stroke-linecap: square"/>
   </g>
   <g id="line2d_113">
    <path d="M 272.46 277.15 L 272.18 276.85 L 271.90 276.18 L 271.30 273.99 L 266.68 256.41 L 264.94 250.86 L 263.20 245.94 L 261.47 241.60 L 259.73 237.74 L 258.00 234.31 L 255.69 230.28 L 253.38 226.77 L 251.08 223.67 L 248.79 220.90 L 245.93 217.81 L 242.51 214.49 L 238.53 210.96 L 234.57 207.68 L 230.07 204.22 L 225.59 201.04 L 221.14 198.13 L 216.71 195.48 L 211.21 192.46 L 204.67 189.16 L 196.02 185.12 L 172.74 174.58 L 169.62 173.46 L 166.52 172.61 L 164.47 172.22 L 163.44 171.84 L 162.40 170.87 L 162.40 170.87" clip-path="url(#pd6e7ab36a4)" style="fill: none; stroke: #ff7f0e; stroke-width: 1.5; stroke-linecap: square"/>
   </g>
   <g id="line2d_114">
    <path d="M 271.31 277.61 L 271.03 277.32 L 270.75 276.66 L 270.15 274.49 L 266.10 259.41 L 264.36 253.78 L 262.63 248.75 L 260.89 244.25 L 259.15 240.23 L 256.84 235.53 L 254.53 231.46 L 252.22 227.93 L 249.92 224.86 L 247.63 222.16 L 244.77 219.17 L 241.35 216.00 L 237.37 212.64 L 233.42 209.52 L 228.92 206.21 L 224.44 203.15 L 219.99 200.34 L 215.57 197.79 L 210.07 194.88 L 203.53 191.70 L 194.89 187.79 L 171.63 177.66 L 168.52 176.58 L 165.42 175.74 L 163.37 175.34 L 162.34 174.95 L 161.30 173.98 L 161.30 173.98" clip-path="url(#pd6e7ab36a4)" style="fill: none; stroke: #2ca02c; stroke-width: 1.5; stroke-linecap: square"/>
   </g>
   <g id="line2d_115">
    <path d="M 270.15 278.08 L 269.87 277.79 L 269.60 277.14 L 268.99 275.00 L 265.52 262.39 L 263.20 255.04 L 260.89 248.61 L 258.57 243.01 L 256.26 238.15 L 253.94 233.93 L 251.64 230.28 L 249.34 227.15 L 247.04 224.43 L 244.75 222.04 L 241.90 219.41 L 238.48 216.58 L 234.52 213.53 L 230.01 210.29 L 224.41 206.58 L 219.96 203.87 L 215.53 201.40 L 210.04 198.58 L 203.49 195.51 L 194.85 191.74 L 171.58 182.02 L 167.44 180.57 L 164.34 179.72 L 162.29 179.29 L 161.27 178.89 L 160.23 177.94 L 160.23 177.94" clip-path="url(#pd6e7ab36a4)" style="fill: none; stroke: #d62728; stroke-width: 1.5; stroke-linecap: square"/>
   </g>
   <g id="line2d_116">
    <path d="M 269.00 278.55 L 268.72 278.26 L 268.44 277.62 L 267.84 275.52 L 264.94 265.21 L 262.63 257.94 L 260.31 251.55 L 257.99 245.96 L 255.67 241.09 L 253.36 236.85 L 251.05 233.20 L 248.75 230.07 L 246.46 227.38 L 244.16 225.05 L 241.31 222.52 L 237.90 219.85 L 233.37 216.62 L 227.75 212.93 L 222.16 209.59 L 216.61 206.56 L 211.11 203.84 L 204.55 200.86 L 196.98 197.67 L 182.05 191.70 L 169.49 186.77 L 165.35 185.44 L 162.27 184.67 L 161.25 184.45 L 160.22 184.04 L 159.18 183.05 L 159.18 183.05" clip-path="url(#pd6e7ab36a4)" style="fill: none; stroke: #9467bd; stroke-width: 1.5; stroke-linecap: square"/>
   </g>
   <g id="line2d_117">
    <path d="M 267.85 279.02 L 267.57 278.74 L 267.29 278.11 L 266.69 276.06 L 263.79 265.85 L 262.05 260.44 L 260.31 255.63 L 258.57 251.35 L 256.83 247.54 L 255.09 244.14 L 252.78 240.18 L 250.47 236.78 L 248.17 233.86 L 245.87 231.34 L 243.58 229.16 L 240.73 226.78 L 237.32 224.29 L 233.36 221.68 L 228.86 218.94 L 223.26 215.81 L 217.71 212.96 L 212.20 210.37 L 205.64 207.52 L 196.97 204.03 L 175.75 195.83 L 169.49 193.52 L 165.36 192.23 L 162.28 191.49 L 160.24 191.11 L 159.21 190.65 L 158.16 189.39 L 158.16 189.39" clip-path="url(#pd6e7ab36a4)" style="fill: none; stroke: #8c564b; stroke-width: 1.5; stroke-linecap: square"/>
   </g>
   <g id="line2d_118">
    <path d="M 266.69 279.49 L 266.41 279.26 L 265.99 278.47 L 264.37 274.28 L 263.21 270.07 L 262.05 265.73 L 260.89 262.29 L 259.14 258.02 L 256.82 252.50 L 255.67 249.43 L 254.51 247.22 L 252.77 244.55 L 251.04 242.32 L 248.16 239.05 L 245.87 236.68 L 244.15 235.16 L 241.30 232.98 L 237.88 230.69 L 234.49 228.64 L 229.98 226.20 L 225.50 224.01 L 218.83 221.02 L 211.12 217.82 L 200.24 213.52 L 181.03 206.20 L 157.19 197.21 L 157.19 197.21" clip-path="url(#pd6e7ab36a4)" style="fill: none; stroke: #e377c2; stroke-width: 1.5; stroke-linecap: square"/>
   </g>
   <g id="line2d_119">
    <path d="M 265.53 279.96 L 265.25 279.72 L 264.83 278.87 L 263.79 276.29 L 262.63 273.22 L 259.14 262.98 L 257.40 258.73 L 255.66 255.12 L 253.93 252.00 L 252.77 250.39 L 251.04 248.41 L 249.31 246.77 L 246.44 244.39 L 244.15 242.77 L 241.30 241.10 L 236.76 238.79 L 231.69 236.44 L 225.53 233.79 L 213.36 228.91 L 188.51 219.31 L 156.27 206.96 L 156.27 206.96" clip-path="url(#pd6e7ab36a4)" style="fill: none; stroke: #7f7f7f; stroke-width: 1.5; stroke-linecap: square"/>
   </g>
   <g id="line2d_120">
    <path d="M 264.37 280.44 L 264.09 280.24 L 263.67 279.61 L 261.47 275.33 L 260.30 272.09 L 257.98 265.08 L 257.40 263.82 L 256.24 261.81 L 253.92 257.44 L 252.77 255.84 L 251.61 254.68 L 250.46 253.92 L 249.31 253.40 L 246.45 252.47 L 242.45 251.20 L 217.81 241.64 L 155.36 217.32 L 155.36 217.32" clip-path="url(#pd6e7ab36a4)" style="fill: none; stroke: #bcbd22; stroke-width: 1.5; stroke-linecap: square"/>
   </g>
   <g id="line2d_121">
    <path d="M 263.21 280.91 L 262.79 280.60 L 262.28 279.89 L 259.72 276.03 L 258.56 273.69 L 256.82 269.96 L 254.50 266.17 L 253.35 264.88 L 252.20 264.03 L 251.04 263.55 L 249.90 263.30 L 249.32 263.25 L 248.18 263.60 L 246.47 264.25 L 244.76 264.79 L 243.06 264.99 L 241.36 264.80 L 240.22 264.40 L 237.96 263.32 L 236.83 262.63 L 231.19 258.77 L 229.51 257.93 L 226.73 257.00 L 224.50 256.38 L 221.18 255.68 L 218.97 254.77 L 213.48 252.34 L 154.49 228.67 L 154.49 228.67" clip-path="url(#pd6e7ab36a4)" style="fill: none; stroke: #17becf; stroke-width: 1.5; stroke-linecap: square"/>
   </g>
   <g id="line2d_122">
    <path d="M 262.05 281.32 L 261.12 280.83 L 260.30 280.27 L 259.14 279.25 L 257.40 277.36 L 253.93 273.35 L 252.77 272.25 L 251.62 271.37 L 250.47 270.77 L 249.32 270.44 L 248.18 270.38 L 247.04 270.54 L 245.33 271.05 L 242.49 271.97 L 241.36 272.12 L 240.23 272.07 L 239.10 271.75 L 237.96 271.18 L 236.83 270.35 L 235.14 268.73 L 230.06 263.31 L 228.94 262.46 L 227.82 261.86 L 226.71 261.51 L 225.60 261.40 L 224.49 261.50 L 222.28 262.08 L 220.09 262.69 L 218.99 262.82 L 217.89 262.76 L 216.79 262.47 L 215.70 261.95 L 214.59 261.19 L 212.39 259.12 L 209.09 255.61 L 207.99 254.61 L 206.90 253.79 L 205.81 253.18 L 204.73 252.81 L 203.65 252.67 L 202.58 252.71 L 200.44 253.18 L 198.31 253.69 L 197.25 253.80 L 196.18 253.74 L 195.12 253.47 L 194.05 252.98 L 192.98 252.28 L 190.83 250.38 L 187.61 247.08 L 186.54 246.13 L 185.48 245.34 L 184.42 244.74 L 183.36 244.36 L 182.32 244.18 L 181.27 244.17 L 179.20 244.53 L 177.14 244.95 L 176.10 245.04 L 175.07 244.97 L 174.03 244.72 L 172.99 244.27 L 171.95 243.63 L 169.86 241.86 L 165.68 237.87 L 164.64 237.10 L 163.61 236.52 L 162.59 236.12 L 161.57 235.91 L 160.55 235.87 L 158.54 236.13 L 156.54 236.47 L 155.53 236.53 L 154.53 236.46 L 153.52 236.23 L 153.52 236.23" clip-path="url(#pd6e7ab36a4)" style="fill: none; stroke: #1f77b4; stroke-width: 1.5; stroke-linecap: square"/>
   </g>
   <g id="text_22">
    <text x="258.30" y="37.20" text-anchor="middle" font-size="12.48" textLength="381.62" lengthAdjust="spacingAndGlyphs">Pendulum Angle Evolution for quadratic and IC_-3.14_0.0_0.0_0</text>
   </g>
   <g id="line2d_123">
    <path d="M 150.29 115.22 L 262.05 83.62" clip-path="url(#pd6e7ab36a4)" style="fill: none; stroke-dasharray: 7.4,3.2; stroke-dashoffset: 0; stroke: #ff0000; stroke-width: 2"/>
   </g>
  </g>
 </g>
 <defs>
  <clipPath id="pd6e7ab36a4">
   <rect x="119.7" y="43.2" width="277.2" height="277.2"/>
  </clipPath>
 </defs>
</svg>

</body></html>
